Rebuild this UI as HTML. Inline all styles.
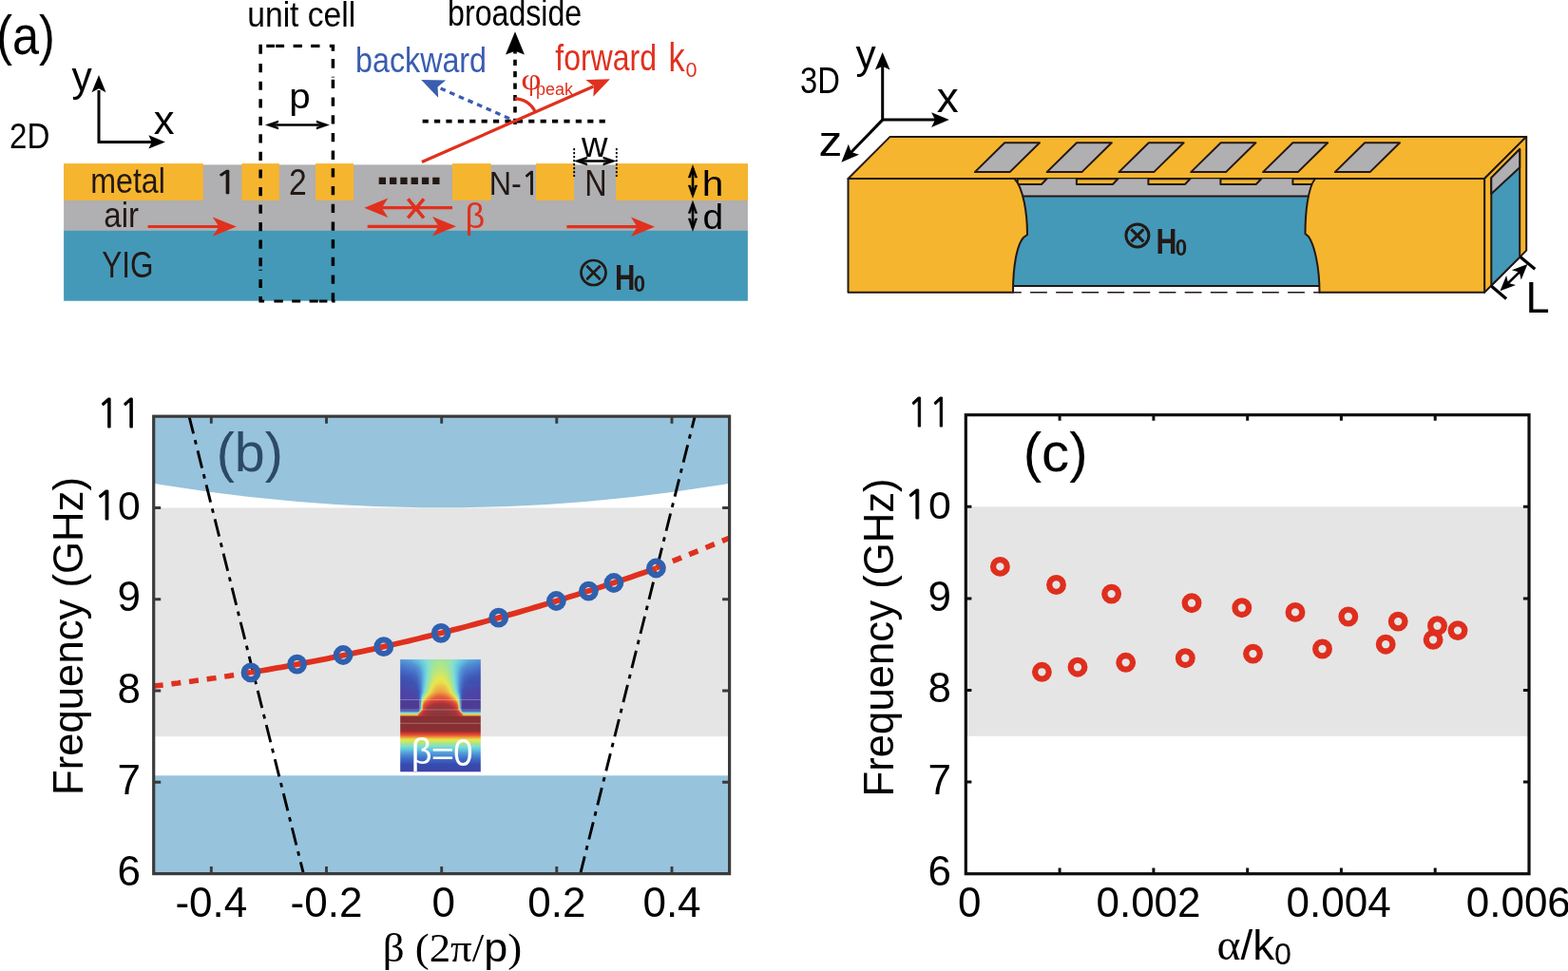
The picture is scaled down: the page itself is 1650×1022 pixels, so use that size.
<!DOCTYPE html>
<html><head><meta charset="utf-8"><title>figure</title>
<style>html,body{margin:0;padding:0;background:#fff;overflow:hidden}svg{display:block}</style></head>
<body><svg width="1650" height="1022" viewBox="0 0 1650 1022">
<rect width="1650" height="1022" fill="#fff"/>
<rect x="67.1" y="173.4" width="719.8" height="69.6" fill="#b0afb1"/>
<rect x="67.1" y="242.8" width="719.8" height="73.9" fill="#4499b8"/>
<rect x="67.1" y="172.1" width="146.7" height="38.8" fill="#f6b52e"/>
<rect x="254.3" y="172.1" width="39.6" height="38.8" fill="#f6b52e"/>
<rect x="332" y="172.1" width="40.1" height="38.8" fill="#f6b52e"/>
<rect x="476" y="172.1" width="40.7" height="38.8" fill="#f6b52e"/>
<rect x="564" y="172.1" width="40.0" height="38.8" fill="#f6b52e"/>
<rect x="648.2" y="172.1" width="138.7" height="38.8" fill="#f6b52e"/>
<rect x="398.7" y="186.7" width="7.3" height="7.3" fill="#231815"/>
<rect x="410.0" y="186.7" width="7.3" height="7.3" fill="#231815"/>
<rect x="421.3" y="186.7" width="7.3" height="7.3" fill="#231815"/>
<rect x="432.6" y="186.7" width="7.3" height="7.3" fill="#231815"/>
<rect x="443.9" y="186.7" width="7.3" height="7.3" fill="#231815"/>
<rect x="455.2" y="186.7" width="7.3" height="7.3" fill="#231815"/>
<path d="M272.40,46.80h3.5v9.90h-3.5zM272.40,67.10h3.5v9.20h-3.5zM272.40,85.65h3.5v9.20h-3.5zM272.40,104.20h3.5v9.20h-3.5zM272.40,122.75h3.5v9.20h-3.5zM272.40,141.30h3.5v9.20h-3.5zM272.40,159.85h3.5v9.20h-3.5zM272.40,178.40h3.5v9.20h-3.5zM272.40,196.95h3.5v9.20h-3.5zM272.40,215.50h3.5v9.20h-3.5zM272.40,234.05h3.5v9.20h-3.5zM272.40,252.60h3.5v9.20h-3.5zM272.40,271.15h3.5v9.20h-3.5zM272.40,283.80h3.5v1.00h-3.5zM272.40,293.90h3.5v9.20h-3.5zM272.40,311.90h3.5v6.60h-3.5zM348.65,46.80h3.5v6.90h-3.5zM348.65,61.90h3.5v9.90h-3.5zM348.65,80.80h3.5v0.80h-3.5zM348.65,83.80h3.5v9.30h-3.5zM348.65,102.50h3.5v9.30h-3.5zM348.65,121.20h3.5v9.30h-3.5zM348.65,139.90h3.5v9.30h-3.5zM348.65,158.60h3.5v9.30h-3.5zM348.65,177.30h3.5v9.30h-3.5zM348.65,196.00h3.5v9.30h-3.5zM348.65,214.70h3.5v9.30h-3.5zM348.65,233.40h3.5v9.30h-3.5zM348.65,252.10h3.5v9.30h-3.5zM348.65,270.80h3.5v9.30h-3.5zM348.65,289.50h3.5v9.30h-3.5zM348.65,308.20h3.5v9.30h-3.5zM272.40,46.80h3.50v3.30h-3.50zM280.30,46.80h8.70v3.30h-8.70zM290.10,46.80h9.00v3.30h-9.00zM308.60,46.80h9.30v3.30h-9.30zM327.20,46.80h9.30v3.30h-9.30zM346.80,46.80h5.40v3.30h-5.40zM272.60,315.40h5.50v3.10h-5.50zM288.40,315.40h9.40v3.10h-9.40zM307.20,315.40h9.00v3.10h-9.00zM325.60,315.40h9.10v3.10h-9.10zM335.90,315.40h8.50v3.10h-8.50zM349.30,315.40h3.30v3.10h-3.30z" fill="#000"/>
<line x1="283" y1="131.5" x2="343" y2="131.5" stroke="#000" stroke-width="2.4"/>
<polygon points="279.50,131.50 292.80,126.90 292.80,129.12 285.92,131.50 292.80,133.88 292.80,136.10" fill="#000" stroke="#000" stroke-width="0.4" stroke-linejoin="round"/>
<polygon points="346.40,131.50 333.10,136.10 333.10,133.88 339.98,131.50 333.10,129.12 333.10,126.90" fill="#000" stroke="#000" stroke-width="0.4" stroke-linejoin="round"/>
<path d="M104,95 L104,149.4 L160,149.4" stroke="#000" stroke-width="3" fill="none"/>
<polygon points="104.00,79.00 111.50,97.30 104.00,93.20 96.50,97.30" fill="#000"/>
<polygon points="173.90,149.40 156.40,156.60 159.70,149.40 156.40,142.20" fill="#000"/>
<line x1="542" y1="130.9" x2="542" y2="50.3" stroke="#000" stroke-width="3.6" stroke-dasharray="6.2 6.2"/>
<polygon points="542.00,33.30 551.95,57.50 542.00,53.70 532.05,57.50" fill="#000"/>
<line x1="444.6" y1="127.6" x2="637" y2="127.6" stroke="#000" stroke-width="3.6" stroke-dasharray="6.2 6.2"/>
<line x1="536" y1="124.8" x2="460.6" y2="91.6" stroke="#3a5db0" stroke-width="3.3" stroke-dasharray="5.6 4.9"/>
<polygon points="443.20,83.90 469.15,84.57 460.57,91.60 461.13,102.67" fill="#3a5db0"/>
<line x1="443.9" y1="170.6" x2="624.5" y2="90.9" stroke="#e0301e" stroke-width="3.3"/>
<polygon points="641.90,83.20 624.25,101.63 625.08,90.65 616.39,83.89" fill="#e0301e"/>
<path d="M541.7,103.9 A23.5,23.5 0 0 1 563.2,117.9" stroke="#e0301e" stroke-width="3.3" fill="none"/>
<line x1="155.6" y1="238.6" x2="230.3" y2="238.6" stroke="#e0301e" stroke-width="3.0"/>
<polygon points="248.80,238.60 223.80,248.80 230.30,238.60 223.80,228.40" fill="#e0301e"/>
<line x1="476" y1="218.7" x2="401.8" y2="218.7" stroke="#e0301e" stroke-width="3.3"/>
<polygon points="383.30,218.70 408.30,208.50 401.80,218.70 408.30,228.90" fill="#e0301e"/>
<line x1="386.7" y1="238.3" x2="461.5" y2="238.3" stroke="#e0301e" stroke-width="3.3"/>
<polygon points="480.00,238.30 455.00,248.50 461.50,238.30 455.00,228.10" fill="#e0301e"/>
<line x1="596.4" y1="238.7" x2="670.5" y2="238.7" stroke="#e0301e" stroke-width="3.3"/>
<polygon points="689.00,238.70 664.00,248.90 670.50,238.70 664.00,228.50" fill="#e0301e"/>
<path d="M429.3,209.3 L446,229.3 M446,209.3 L429.3,229.3" stroke="#e0301e" stroke-width="3.6"/>
<path d="M604.2,156 L604.2,186 M648.8,156 L648.8,186" stroke="#000" stroke-width="1.8" stroke-dasharray="2.2 1.8"/>
<line x1="608" y1="169.5" x2="645" y2="169.5" stroke="#000" stroke-width="2.6"/>
<polygon points="604.40,169.50 617.80,164.90 617.80,167.12 610.87,169.50 617.80,171.88 617.80,174.10" fill="#000" stroke="#000" stroke-width="0.4" stroke-linejoin="round"/>
<polygon points="648.20,169.50 634.80,174.10 634.80,171.88 641.73,169.50 634.80,167.12 634.80,164.90" fill="#000" stroke="#000" stroke-width="0.4" stroke-linejoin="round"/>
<line x1="729" y1="177" x2="729" y2="205" stroke="#000" stroke-width="2.6"/>
<polygon points="729.00,173.70 733.80,187.00 731.57,187.00 729.00,179.89 726.43,187.00 724.20,187.00" fill="#000" stroke="#000" stroke-width="0.4" stroke-linejoin="round"/>
<polygon points="729.00,208.30 724.20,195.00 726.43,195.00 729.00,202.11 731.57,195.00 733.80,195.00" fill="#000" stroke="#000" stroke-width="0.4" stroke-linejoin="round"/>
<line x1="729" y1="214.5" x2="729" y2="240" stroke="#000" stroke-width="2.6"/>
<polygon points="729.00,211.20 733.80,224.50 731.57,224.50 729.00,217.39 726.43,224.50 724.20,224.50" fill="#000" stroke="#000" stroke-width="0.4" stroke-linejoin="round"/>
<polygon points="729.00,243.20 724.20,229.90 726.43,229.90 729.00,237.01 731.57,229.90 733.80,229.90" fill="#000" stroke="#000" stroke-width="0.4" stroke-linejoin="round"/>
<circle cx="624.5" cy="287" r="13" fill="none" stroke="#231815" stroke-width="2.7"/>
<path d="M617.3,279.8 L631.7,294.2 M631.7,279.8 L617.3,294.2" stroke="#231815" stroke-width="2.7"/>
<polygon points="892.5,188 936.6,143.9 1606.2,143.9 1562.1,188" fill="#f6b52e" stroke="#231815" stroke-width="2" stroke-linejoin="round"/>
<polygon points="1025.8,181.1 1062.6,181.1 1094.0,150.2 1057.2,150.2" fill="#b0afb1" stroke="#231815" stroke-width="2" stroke-linejoin="round"/>
<polygon points="1101.6,181.1 1138.4,181.1 1169.8,150.2 1133.0,150.2" fill="#b0afb1" stroke="#231815" stroke-width="2" stroke-linejoin="round"/>
<polygon points="1177.4,181.1 1214.2,181.1 1245.6,150.2 1208.8,150.2" fill="#b0afb1" stroke="#231815" stroke-width="2" stroke-linejoin="round"/>
<polygon points="1253.2,181.1 1290.0,181.1 1321.4,150.2 1284.6,150.2" fill="#b0afb1" stroke="#231815" stroke-width="2" stroke-linejoin="round"/>
<polygon points="1329.0,181.1 1365.8,181.1 1397.2,150.2 1360.4,150.2" fill="#b0afb1" stroke="#231815" stroke-width="2" stroke-linejoin="round"/>
<polygon points="1404.8,181.1 1441.6,181.1 1473.0,150.2 1436.2,150.2" fill="#b0afb1" stroke="#231815" stroke-width="2" stroke-linejoin="round"/>
<polygon points="1562.1,188 1606.2,143.9 1606.2,263.6 1562.1,307.7" fill="#f6b52e" stroke="#231815" stroke-width="2" stroke-linejoin="round"/>
<polygon points="1569.3,187.1 1599.2,157 1599.2,270.6 1569.3,300.5" fill="#4499b8" stroke="#231815" stroke-width="2" stroke-linejoin="round"/>
<polygon points="1569.3,187.1 1599.2,157 1599.2,176.2 1569.3,204" fill="#b0afb1" stroke="#231815" stroke-width="2" stroke-linejoin="round"/>
<rect x="1064" y="188.3" width="326" height="18.2" fill="#b0afb1"/>
<rect x="1064" y="206.5" width="326" height="94.5" fill="#4499b8"/>
<line x1="1064" y1="206.5" x2="1390" y2="206.5" stroke="#231815" stroke-width="2" stroke-linejoin="round"/>
<line x1="1064" y1="301" x2="1390" y2="301" stroke="#231815" stroke-width="2" stroke-linejoin="round"/>
<line x1="1066" y1="307.8" x2="1389" y2="307.8" stroke="#231815" stroke-width="1.6" stroke-dasharray="17.8 9.3" stroke-dashoffset="9"/>
<polygon points="1070.7,188.3 1070.7,194 1096,194 1101.5,188.3" fill="#f6b52e" stroke="#231815" stroke-width="2" stroke-linejoin="round"/>
<polygon points="1132.9,188.3 1132.9,194 1170.9,194 1176.4,188.3" fill="#f6b52e" stroke="#231815" stroke-width="2" stroke-linejoin="round"/>
<polygon points="1208.4,188.3 1208.4,194 1246.9,194 1252.4,188.3" fill="#f6b52e" stroke="#231815" stroke-width="2" stroke-linejoin="round"/>
<polygon points="1284.4,188.3 1284.4,194 1321.7,194 1327.2,188.3" fill="#f6b52e" stroke="#231815" stroke-width="2" stroke-linejoin="round"/>
<polygon points="1360.4,188.3 1360.4,194 1390,194 1395.5,188.3" fill="#f6b52e" stroke="#231815" stroke-width="2" stroke-linejoin="round"/>
<path d="M892.5,188 L1067.5,188 C1077,198 1081,225 1081,247 L1077,250 C1070,258 1066,280 1066,307.7 L892.5,307.7 Z" fill="#f6b52e" stroke="#231815" stroke-width="2" stroke-linejoin="round"/>
<path d="M1562.1,188 L1384,188 C1376,198 1373.5,225 1373.5,246 L1377,249 C1383,258 1388.5,280 1388.5,307.7 L1562.1,307.7 Z" fill="#f6b52e" stroke="#231815" stroke-width="2" stroke-linejoin="round"/>
<circle cx="1196.9" cy="247.9" r="12" fill="none" stroke="#231815" stroke-width="3"/>
<path d="M1190.4,241.4 L1203.4,254.4 M1203.4,241.4 L1190.4,254.4" stroke="#231815" stroke-width="3"/>
<path d="M928.7,70 L928.7,126.1 L985,126.1" stroke="#000" stroke-width="3" fill="none"/>
<polygon points="928.70,54.90 936.50,73.60 928.70,69.70 920.90,73.60" fill="#000"/>
<polygon points="998.80,126.10 980.10,133.90 984.00,126.10 980.10,118.30" fill="#000"/>
<line x1="928.7" y1="126.1" x2="895.2" y2="160.7" stroke="#000" stroke-width="3"/>
<polygon points="885.40,170.70 892.83,151.85 895.71,160.08 904.02,162.72" fill="#000"/>
<path d="M1569.5,301.2 L1585.1,314.5 M1599.6,270.3 L1615.3,283.2" stroke="#000" stroke-width="3.2"/>
<line x1="1585.7" y1="299.3" x2="1600.2" y2="285.1" stroke="#000" stroke-width="2.6"/>
<polygon points="1578.50,306.30 1585.14,289.90 1587.09,297.92 1595.05,300.07" fill="#000"/>
<polygon points="1607.40,278.10 1600.76,294.50 1598.81,286.48 1590.85,284.33" fill="#000"/>
<clipPath id="cb"><rect x="161.7" y="438.2" width="605.9" height="481.4"/></clipPath>
<g clip-path="url(#cb)">
<rect x="161.7" y="534.5" width="605.9" height="240.7" fill="#e5e5e5"/>
<polygon points="161.7,438.2 767.6,438.2 767.6,508.8 757.5,510.5 747.4,512.1 737.3,513.6 727.2,515.1 717.1,516.6 707.0,518.0 696.9,519.3 686.8,520.6 676.7,521.8 666.6,523.0 656.5,524.1 646.4,525.1 636.3,526.1 626.2,527.0 616.1,527.9 606.0,528.7 595.9,529.5 585.8,530.2 575.7,530.9 565.6,531.5 555.5,532.0 545.4,532.5 535.3,532.9 525.2,533.3 515.1,533.6 505.0,533.8 494.9,534.0 484.8,534.2 474.7,534.3 464.7,534.3 454.6,534.3 444.5,534.2 434.4,534.0 424.3,533.8 414.2,533.6 404.1,533.3 394.0,532.9 383.9,532.5 373.8,532.0 363.7,531.5 353.6,530.9 343.5,530.2 333.4,529.5 323.3,528.7 313.2,527.9 303.1,527.0 293.0,526.1 282.9,525.1 272.8,524.1 262.7,523.0 252.6,521.8 242.5,520.6 232.4,519.3 222.3,518.0 212.2,516.6 202.1,515.1 192.0,513.6 181.9,512.1 171.8,510.5 161.7,508.8" fill="#97c3dc"/>
<rect x="161.7" y="816.3" width="605.9" height="103.3" fill="#97c3dc"/>
<line x1="199" y1="438.2" x2="319.4" y2="919.6" stroke="#000" stroke-width="2.9" stroke-dasharray="18.8 6.9 4.6 6.9"/>
<line x1="610.7" y1="919.6" x2="731.2" y2="438.2" stroke="#000" stroke-width="2.9" stroke-dasharray="18.8 6.9 4.6 6.9"/>
<polyline points="161.7,722.1 164.3,721.8 166.8,721.5 169.4,721.2 171.9,720.9 174.5,720.6 177.0,720.3 179.6,719.9 182.2,719.6 184.7,719.3 187.3,719.0 189.8,718.6 192.4,718.3 194.9,718.0 197.5,717.6 200.1,717.3 202.6,716.9 205.2,716.6 207.7,716.2 210.3,715.9 212.8,715.5 215.4,715.1 218.0,714.8 220.5,714.4 223.1,714.0 225.6,713.7 228.2,713.3 230.8,712.9 233.3,712.5 235.9,712.1 238.4,711.8 241.0,711.4 243.5,711.0 246.1,710.6 248.7,710.2 251.2,709.8 253.8,709.4 256.3,709.0 258.9,708.6 261.4,708.1 264.0,707.7" fill="none" stroke="#e0301e" stroke-width="5.6" stroke-dasharray="10 8.8"/>
<line x1="690.4" y1="597.82" x2="767.6" y2="566.26" stroke="#e0301e" stroke-width="5.6" stroke-dasharray="10 8.8"/>
<polyline points="264.0,707.7 269.3,706.9 274.7,706.0 280.0,705.1 285.3,704.1 290.6,703.2 296.0,702.3 301.3,701.3 306.6,700.4 312.0,699.4 317.3,698.4 322.6,697.4 328.0,696.4 333.3,695.4 338.6,694.3 343.9,693.3 349.3,692.2 354.6,691.1 359.9,690.0 365.3,688.9 370.6,687.8 375.9,686.7 381.3,685.6 386.6,684.4 391.9,683.3 397.2,682.1 402.6,680.9 407.9,679.7 413.2,678.5 418.6,677.2 423.9,676.0 429.2,674.8 434.6,673.5 439.9,672.2 445.2,670.9 450.6,669.6 455.9,668.3 461.2,667.0 466.5,665.7 471.9,664.3 477.2,662.9 482.5,661.6 487.9,660.2 493.2,658.8 498.5,657.4 503.9,655.9 509.2,654.5 514.5,653.0 519.8,651.6 525.2,650.1 530.5,648.6 535.8,647.1 541.2,645.6 546.5,644.1 551.8,642.5 557.1,641.0 562.5,639.4 567.8,637.9 573.1,636.3 578.5,634.7 583.8,633.1 589.1,631.4 594.5,629.8 599.8,628.1 605.1,626.5 610.5,624.8 615.8,623.1 621.1,621.4 626.4,619.7 631.8,618.0 637.1,616.2 642.4,614.5 647.8,612.7 653.1,611.0 658.4,609.2 663.8,607.4 669.1,605.6 674.4,603.7 679.7,601.9 685.1,600.0 690.4,598.2" fill="none" stroke="#e0301e" stroke-width="5.8"/>
<circle cx="264.0" cy="707.9" r="7.3" fill="none" stroke="#2f60ae" stroke-width="6.2"/>
<circle cx="312.6" cy="699.2" r="7.3" fill="none" stroke="#2f60ae" stroke-width="6.2"/>
<circle cx="361.1" cy="689.5" r="7.3" fill="none" stroke="#2f60ae" stroke-width="6.2"/>
<circle cx="403.8" cy="680.7" r="7.3" fill="none" stroke="#2f60ae" stroke-width="6.2"/>
<circle cx="464.1" cy="666.4" r="7.3" fill="none" stroke="#2f60ae" stroke-width="6.2"/>
<circle cx="524.7" cy="650.2" r="7.3" fill="none" stroke="#2f60ae" stroke-width="6.2"/>
<circle cx="585.4" cy="632.5" r="7.3" fill="none" stroke="#2f60ae" stroke-width="6.2"/>
<circle cx="619.4" cy="622.1" r="7.3" fill="none" stroke="#2f60ae" stroke-width="6.2"/>
<circle cx="645.9" cy="613.5" r="7.3" fill="none" stroke="#2f60ae" stroke-width="6.2"/>
<circle cx="690.4" cy="598.0" r="7.3" fill="none" stroke="#2f60ae" stroke-width="6.2"/>
</g>
<defs><linearGradient id="r0" x1="0" x2="1" y1="0" y2="0"><stop offset="0.000" stop-color="#4f95d5"/><stop offset="0.212" stop-color="#5fc3e0"/><stop offset="0.300" stop-color="#79d8d5"/><stop offset="0.324" stop-color="#80ded1"/><stop offset="0.418" stop-color="#9be39e"/><stop offset="0.500" stop-color="#a3e58e"/><stop offset="0.582" stop-color="#9be39e"/><stop offset="0.676" stop-color="#80ded1"/><stop offset="0.700" stop-color="#79d8d5"/><stop offset="0.788" stop-color="#5fc3e0"/><stop offset="1.000" stop-color="#4f95d5"/></linearGradient><linearGradient id="r1" x1="0" x2="1" y1="0" y2="0"><stop offset="0.000" stop-color="#4c8ed3"/><stop offset="0.141" stop-color="#55a5d9"/><stop offset="0.235" stop-color="#60c4e0"/><stop offset="0.329" stop-color="#80ded1"/><stop offset="0.418" stop-color="#9be49d"/><stop offset="0.500" stop-color="#a4e58c"/><stop offset="0.582" stop-color="#9be49d"/><stop offset="0.671" stop-color="#80ded1"/><stop offset="0.765" stop-color="#60c4e0"/><stop offset="0.859" stop-color="#55a5d9"/><stop offset="1.000" stop-color="#4c8ed3"/></linearGradient><linearGradient id="r2" x1="0" x2="1" y1="0" y2="0"><stop offset="0.000" stop-color="#4a88d1"/><stop offset="0.147" stop-color="#529fd7"/><stop offset="0.247" stop-color="#60c4e0"/><stop offset="0.329" stop-color="#7edcd2"/><stop offset="0.418" stop-color="#9ce49b"/><stop offset="0.500" stop-color="#a7e689"/><stop offset="0.582" stop-color="#9ce49b"/><stop offset="0.671" stop-color="#7edcd2"/><stop offset="0.753" stop-color="#60c4e0"/><stop offset="0.853" stop-color="#529fd7"/><stop offset="1.000" stop-color="#4a88d1"/></linearGradient><linearGradient id="r3" x1="0" x2="1" y1="0" y2="0"><stop offset="0.000" stop-color="#4883cf"/><stop offset="0.153" stop-color="#5099d6"/><stop offset="0.259" stop-color="#60c4e0"/><stop offset="0.341" stop-color="#82dece"/><stop offset="0.418" stop-color="#9de49a"/><stop offset="0.500" stop-color="#a9e687"/><stop offset="0.582" stop-color="#9de49a"/><stop offset="0.659" stop-color="#82dece"/><stop offset="0.741" stop-color="#60c4e0"/><stop offset="0.847" stop-color="#5099d6"/><stop offset="1.000" stop-color="#4883cf"/></linearGradient><linearGradient id="r4" x1="0" x2="1" y1="0" y2="0"><stop offset="0.000" stop-color="#467ecd"/><stop offset="0.159" stop-color="#4e93d4"/><stop offset="0.265" stop-color="#5fc3e0"/><stop offset="0.341" stop-color="#80ded0"/><stop offset="0.418" stop-color="#9ee498"/><stop offset="0.500" stop-color="#ace684"/><stop offset="0.582" stop-color="#9ee498"/><stop offset="0.659" stop-color="#80ded0"/><stop offset="0.735" stop-color="#5fc3e0"/><stop offset="0.841" stop-color="#4e93d4"/><stop offset="1.000" stop-color="#467ecd"/></linearGradient><linearGradient id="r5" x1="0" x2="1" y1="0" y2="0"><stop offset="0.000" stop-color="#4479cb"/><stop offset="0.176" stop-color="#4e91d4"/><stop offset="0.271" stop-color="#5ec2e0"/><stop offset="0.341" stop-color="#7fddd2"/><stop offset="0.418" stop-color="#9fe496"/><stop offset="0.500" stop-color="#aee682"/><stop offset="0.582" stop-color="#9fe496"/><stop offset="0.659" stop-color="#7fddd2"/><stop offset="0.729" stop-color="#5ec2e0"/><stop offset="0.824" stop-color="#4e91d4"/><stop offset="1.000" stop-color="#4479cb"/></linearGradient><linearGradient id="r6" x1="0" x2="1" y1="0" y2="0"><stop offset="0.000" stop-color="#4274ca"/><stop offset="0.182" stop-color="#4c8dd2"/><stop offset="0.282" stop-color="#61c4df"/><stop offset="0.347" stop-color="#82decd"/><stop offset="0.424" stop-color="#a1e592"/><stop offset="0.500" stop-color="#b1e67f"/><stop offset="0.576" stop-color="#a1e592"/><stop offset="0.653" stop-color="#82decd"/><stop offset="0.718" stop-color="#61c4df"/><stop offset="0.818" stop-color="#4c8dd2"/><stop offset="1.000" stop-color="#4274ca"/></linearGradient><linearGradient id="r7" x1="0" x2="1" y1="0" y2="0"><stop offset="0.000" stop-color="#4070c8"/><stop offset="0.188" stop-color="#4b8ad1"/><stop offset="0.229" stop-color="#529cd7"/><stop offset="0.282" stop-color="#5ec2e0"/><stop offset="0.347" stop-color="#81dece"/><stop offset="0.424" stop-color="#a2e58f"/><stop offset="0.500" stop-color="#b3e67c"/><stop offset="0.576" stop-color="#a2e58f"/><stop offset="0.653" stop-color="#81dece"/><stop offset="0.718" stop-color="#5ec2e0"/><stop offset="0.771" stop-color="#529cd7"/><stop offset="0.812" stop-color="#4b8ad1"/><stop offset="1.000" stop-color="#4070c8"/></linearGradient><linearGradient id="r8" x1="0" x2="1" y1="0" y2="0"><stop offset="0.000" stop-color="#3f6bc6"/><stop offset="0.188" stop-color="#4985cf"/><stop offset="0.229" stop-color="#5097d5"/><stop offset="0.288" stop-color="#5fc3e0"/><stop offset="0.341" stop-color="#7edcd2"/><stop offset="0.388" stop-color="#97e3a5"/><stop offset="0.429" stop-color="#a6e68a"/><stop offset="0.500" stop-color="#b6e67a"/><stop offset="0.571" stop-color="#a6e68a"/><stop offset="0.612" stop-color="#97e3a5"/><stop offset="0.659" stop-color="#7edcd2"/><stop offset="0.712" stop-color="#5fc3e0"/><stop offset="0.771" stop-color="#5097d5"/><stop offset="0.812" stop-color="#4985cf"/><stop offset="1.000" stop-color="#3f6bc6"/></linearGradient><linearGradient id="r9" x1="0" x2="1" y1="0" y2="0"><stop offset="0.000" stop-color="#3d67c5"/><stop offset="0.188" stop-color="#4780ce"/><stop offset="0.229" stop-color="#4e92d4"/><stop offset="0.294" stop-color="#61c4df"/><stop offset="0.347" stop-color="#81decf"/><stop offset="0.388" stop-color="#98e3a4"/><stop offset="0.429" stop-color="#a8e688"/><stop offset="0.500" stop-color="#b9e677"/><stop offset="0.571" stop-color="#a8e688"/><stop offset="0.612" stop-color="#98e3a4"/><stop offset="0.653" stop-color="#81decf"/><stop offset="0.706" stop-color="#61c4df"/><stop offset="0.771" stop-color="#4e92d4"/><stop offset="0.812" stop-color="#4780ce"/><stop offset="1.000" stop-color="#3d67c5"/></linearGradient><linearGradient id="r10" x1="0" x2="1" y1="0" y2="0"><stop offset="0.000" stop-color="#3c64c2"/><stop offset="0.188" stop-color="#457ccc"/><stop offset="0.235" stop-color="#4e91d4"/><stop offset="0.294" stop-color="#5fc3e0"/><stop offset="0.347" stop-color="#81decf"/><stop offset="0.388" stop-color="#99e3a2"/><stop offset="0.429" stop-color="#abe685"/><stop offset="0.500" stop-color="#bce673"/><stop offset="0.571" stop-color="#abe685"/><stop offset="0.612" stop-color="#99e3a2"/><stop offset="0.653" stop-color="#81decf"/><stop offset="0.706" stop-color="#5fc3e0"/><stop offset="0.765" stop-color="#4e91d4"/><stop offset="0.812" stop-color="#457ccc"/><stop offset="1.000" stop-color="#3c64c2"/></linearGradient><linearGradient id="r11" x1="0" x2="1" y1="0" y2="0"><stop offset="0.000" stop-color="#3b61c0"/><stop offset="0.188" stop-color="#4478cb"/><stop offset="0.241" stop-color="#4e91d4"/><stop offset="0.294" stop-color="#5ec2e0"/><stop offset="0.341" stop-color="#7edcd2"/><stop offset="0.388" stop-color="#9ae39f"/><stop offset="0.424" stop-color="#ace684"/><stop offset="0.500" stop-color="#c0e66f"/><stop offset="0.576" stop-color="#ace684"/><stop offset="0.612" stop-color="#9ae39f"/><stop offset="0.659" stop-color="#7edcd2"/><stop offset="0.706" stop-color="#5ec2e0"/><stop offset="0.759" stop-color="#4e91d4"/><stop offset="0.812" stop-color="#4478cb"/><stop offset="1.000" stop-color="#3b61c0"/></linearGradient><linearGradient id="r12" x1="0" x2="1" y1="0" y2="0"><stop offset="0.000" stop-color="#3b5ebd"/><stop offset="0.188" stop-color="#4273c9"/><stop offset="0.247" stop-color="#4e92d4"/><stop offset="0.300" stop-color="#61c5df"/><stop offset="0.341" stop-color="#7edcd2"/><stop offset="0.388" stop-color="#9ce49c"/><stop offset="0.424" stop-color="#b0e680"/><stop offset="0.500" stop-color="#c4e66b"/><stop offset="0.576" stop-color="#b0e680"/><stop offset="0.612" stop-color="#9ce49c"/><stop offset="0.659" stop-color="#7edcd2"/><stop offset="0.700" stop-color="#61c5df"/><stop offset="0.753" stop-color="#4e92d4"/><stop offset="0.812" stop-color="#4273c9"/><stop offset="1.000" stop-color="#3b5ebd"/></linearGradient><linearGradient id="r13" x1="0" x2="1" y1="0" y2="0"><stop offset="0.000" stop-color="#3a5bbb"/><stop offset="0.135" stop-color="#3c65c2"/><stop offset="0.194" stop-color="#4172c9"/><stop offset="0.247" stop-color="#4d8ed3"/><stop offset="0.300" stop-color="#60c4e0"/><stop offset="0.341" stop-color="#7fddd2"/><stop offset="0.382" stop-color="#9be39e"/><stop offset="0.424" stop-color="#b4e67c"/><stop offset="0.500" stop-color="#c9e767"/><stop offset="0.576" stop-color="#b4e67c"/><stop offset="0.618" stop-color="#9be39e"/><stop offset="0.659" stop-color="#7fddd2"/><stop offset="0.700" stop-color="#60c4e0"/><stop offset="0.753" stop-color="#4d8ed3"/><stop offset="0.806" stop-color="#4172c9"/><stop offset="0.865" stop-color="#3c65c2"/><stop offset="1.000" stop-color="#3a5bbb"/></linearGradient><linearGradient id="r14" x1="0" x2="1" y1="0" y2="0"><stop offset="0.000" stop-color="#3958b9"/><stop offset="0.194" stop-color="#406ec7"/><stop offset="0.253" stop-color="#4d90d3"/><stop offset="0.300" stop-color="#60c4e0"/><stop offset="0.341" stop-color="#7fddd2"/><stop offset="0.382" stop-color="#9ce49b"/><stop offset="0.424" stop-color="#b8e678"/><stop offset="0.500" stop-color="#cde763"/><stop offset="0.576" stop-color="#b8e678"/><stop offset="0.618" stop-color="#9ce49b"/><stop offset="0.659" stop-color="#7fddd2"/><stop offset="0.700" stop-color="#60c4e0"/><stop offset="0.747" stop-color="#4d90d3"/><stop offset="0.806" stop-color="#406ec7"/><stop offset="1.000" stop-color="#3958b9"/></linearGradient><linearGradient id="r15" x1="0" x2="1" y1="0" y2="0"><stop offset="0.000" stop-color="#3856b7"/><stop offset="0.194" stop-color="#3e6ac6"/><stop offset="0.253" stop-color="#4c8ed2"/><stop offset="0.300" stop-color="#5fc3e0"/><stop offset="0.341" stop-color="#80ded0"/><stop offset="0.382" stop-color="#9ee498"/><stop offset="0.424" stop-color="#bce674"/><stop offset="0.500" stop-color="#d1e75f"/><stop offset="0.576" stop-color="#bce674"/><stop offset="0.618" stop-color="#9ee498"/><stop offset="0.659" stop-color="#80ded0"/><stop offset="0.700" stop-color="#5fc3e0"/><stop offset="0.747" stop-color="#4c8ed2"/><stop offset="0.806" stop-color="#3e6ac6"/><stop offset="1.000" stop-color="#3856b7"/></linearGradient><linearGradient id="r16" x1="0" x2="1" y1="0" y2="0"><stop offset="0.000" stop-color="#3853b5"/><stop offset="0.135" stop-color="#3a5cbb"/><stop offset="0.200" stop-color="#3e69c6"/><stop offset="0.259" stop-color="#4d90d3"/><stop offset="0.300" stop-color="#5fc3e0"/><stop offset="0.341" stop-color="#81dece"/><stop offset="0.382" stop-color="#a0e594"/><stop offset="0.418" stop-color="#bce674"/><stop offset="0.453" stop-color="#cde762"/><stop offset="0.500" stop-color="#d5e75a"/><stop offset="0.547" stop-color="#cde762"/><stop offset="0.582" stop-color="#bce674"/><stop offset="0.618" stop-color="#a0e594"/><stop offset="0.659" stop-color="#81dece"/><stop offset="0.700" stop-color="#5fc3e0"/><stop offset="0.741" stop-color="#4d90d3"/><stop offset="0.800" stop-color="#3e69c6"/><stop offset="0.865" stop-color="#3a5cbb"/><stop offset="1.000" stop-color="#3853b5"/></linearGradient><linearGradient id="r17" x1="0" x2="1" y1="0" y2="0"><stop offset="0.000" stop-color="#3751b3"/><stop offset="0.141" stop-color="#395aba"/><stop offset="0.206" stop-color="#3d68c5"/><stop offset="0.259" stop-color="#4d8ed3"/><stop offset="0.300" stop-color="#5fc3e0"/><stop offset="0.335" stop-color="#7ddcd2"/><stop offset="0.382" stop-color="#a2e591"/><stop offset="0.418" stop-color="#c0e670"/><stop offset="0.453" stop-color="#d2e75e"/><stop offset="0.500" stop-color="#d9e756"/><stop offset="0.547" stop-color="#d2e75e"/><stop offset="0.582" stop-color="#c0e670"/><stop offset="0.618" stop-color="#a2e591"/><stop offset="0.665" stop-color="#7ddcd2"/><stop offset="0.700" stop-color="#5fc3e0"/><stop offset="0.741" stop-color="#4d8ed3"/><stop offset="0.794" stop-color="#3d68c5"/><stop offset="0.859" stop-color="#395aba"/><stop offset="1.000" stop-color="#3751b3"/></linearGradient><linearGradient id="r18" x1="0" x2="1" y1="0" y2="0"><stop offset="0.000" stop-color="#364fb1"/><stop offset="0.141" stop-color="#3957b8"/><stop offset="0.206" stop-color="#3d66c3"/><stop offset="0.259" stop-color="#4c8cd2"/><stop offset="0.300" stop-color="#5fc3e0"/><stop offset="0.335" stop-color="#7eddd2"/><stop offset="0.376" stop-color="#a0e594"/><stop offset="0.418" stop-color="#c4e66c"/><stop offset="0.453" stop-color="#d6e759"/><stop offset="0.500" stop-color="#dde752"/><stop offset="0.547" stop-color="#d6e759"/><stop offset="0.582" stop-color="#c4e66c"/><stop offset="0.624" stop-color="#a0e594"/><stop offset="0.665" stop-color="#7eddd2"/><stop offset="0.700" stop-color="#5fc3e0"/><stop offset="0.741" stop-color="#4c8cd2"/><stop offset="0.794" stop-color="#3d66c3"/><stop offset="0.859" stop-color="#3957b8"/><stop offset="1.000" stop-color="#364fb1"/></linearGradient><linearGradient id="r19" x1="0" x2="1" y1="0" y2="0"><stop offset="0.000" stop-color="#364daf"/><stop offset="0.141" stop-color="#3854b6"/><stop offset="0.206" stop-color="#3c63c1"/><stop offset="0.259" stop-color="#4b8ad1"/><stop offset="0.300" stop-color="#5fc3e0"/><stop offset="0.335" stop-color="#80ded1"/><stop offset="0.376" stop-color="#a2e590"/><stop offset="0.418" stop-color="#c8e767"/><stop offset="0.453" stop-color="#dae755"/><stop offset="0.500" stop-color="#e1e74e"/><stop offset="0.547" stop-color="#dae755"/><stop offset="0.582" stop-color="#c8e767"/><stop offset="0.624" stop-color="#a2e590"/><stop offset="0.665" stop-color="#80ded1"/><stop offset="0.700" stop-color="#5fc3e0"/><stop offset="0.741" stop-color="#4b8ad1"/><stop offset="0.794" stop-color="#3c63c1"/><stop offset="0.859" stop-color="#3854b6"/><stop offset="1.000" stop-color="#364daf"/></linearGradient><linearGradient id="r20" x1="0" x2="1" y1="0" y2="0"><stop offset="0.000" stop-color="#364bae"/><stop offset="0.141" stop-color="#3752b4"/><stop offset="0.206" stop-color="#3b60bf"/><stop offset="0.253" stop-color="#4882cf"/><stop offset="0.300" stop-color="#5fc3e0"/><stop offset="0.335" stop-color="#81decf"/><stop offset="0.376" stop-color="#a4e58c"/><stop offset="0.418" stop-color="#cce763"/><stop offset="0.453" stop-color="#dee751"/><stop offset="0.500" stop-color="#e5e74a"/><stop offset="0.547" stop-color="#dee751"/><stop offset="0.582" stop-color="#cce763"/><stop offset="0.624" stop-color="#a4e58c"/><stop offset="0.665" stop-color="#81decf"/><stop offset="0.700" stop-color="#5fc3e0"/><stop offset="0.747" stop-color="#4882cf"/><stop offset="0.794" stop-color="#3b60bf"/><stop offset="0.859" stop-color="#3752b4"/><stop offset="1.000" stop-color="#364bae"/></linearGradient><linearGradient id="r21" x1="0" x2="1" y1="0" y2="0"><stop offset="0.000" stop-color="#3849ad"/><stop offset="0.141" stop-color="#3750b2"/><stop offset="0.206" stop-color="#3b5ebd"/><stop offset="0.253" stop-color="#4781ce"/><stop offset="0.300" stop-color="#5fc3e0"/><stop offset="0.329" stop-color="#7ddbd3"/><stop offset="0.376" stop-color="#a7e689"/><stop offset="0.418" stop-color="#d0e75f"/><stop offset="0.459" stop-color="#e4e74b"/><stop offset="0.500" stop-color="#e8e547"/><stop offset="0.541" stop-color="#e4e74b"/><stop offset="0.582" stop-color="#d0e75f"/><stop offset="0.624" stop-color="#a7e689"/><stop offset="0.671" stop-color="#7ddbd3"/><stop offset="0.700" stop-color="#5fc3e0"/><stop offset="0.747" stop-color="#4781ce"/><stop offset="0.794" stop-color="#3b5ebd"/><stop offset="0.859" stop-color="#3750b2"/><stop offset="1.000" stop-color="#3849ad"/></linearGradient><linearGradient id="r22" x1="0" x2="1" y1="0" y2="0"><stop offset="0.000" stop-color="#3948ac"/><stop offset="0.141" stop-color="#364db0"/><stop offset="0.206" stop-color="#3a5bbb"/><stop offset="0.253" stop-color="#467fcd"/><stop offset="0.300" stop-color="#5fc3e0"/><stop offset="0.329" stop-color="#7edcd2"/><stop offset="0.376" stop-color="#abe685"/><stop offset="0.418" stop-color="#d5e75b"/><stop offset="0.453" stop-color="#e7e748"/><stop offset="0.500" stop-color="#e8e146"/><stop offset="0.547" stop-color="#e7e748"/><stop offset="0.582" stop-color="#d5e75b"/><stop offset="0.624" stop-color="#abe685"/><stop offset="0.671" stop-color="#7edcd2"/><stop offset="0.700" stop-color="#5fc3e0"/><stop offset="0.747" stop-color="#467fcd"/><stop offset="0.794" stop-color="#3a5bbb"/><stop offset="0.859" stop-color="#364db0"/><stop offset="1.000" stop-color="#3948ac"/></linearGradient><linearGradient id="r23" x1="0" x2="1" y1="0" y2="0"><stop offset="0.000" stop-color="#3b47ab"/><stop offset="0.147" stop-color="#364caf"/><stop offset="0.206" stop-color="#3959b9"/><stop offset="0.253" stop-color="#467dcd"/><stop offset="0.300" stop-color="#60c4e0"/><stop offset="0.329" stop-color="#7fddd2"/><stop offset="0.371" stop-color="#a7e689"/><stop offset="0.418" stop-color="#d9e756"/><stop offset="0.447" stop-color="#e8e647"/><stop offset="0.500" stop-color="#e9dd46"/><stop offset="0.553" stop-color="#e8e647"/><stop offset="0.582" stop-color="#d9e756"/><stop offset="0.629" stop-color="#a7e689"/><stop offset="0.671" stop-color="#7fddd2"/><stop offset="0.700" stop-color="#60c4e0"/><stop offset="0.747" stop-color="#467dcd"/><stop offset="0.794" stop-color="#3959b9"/><stop offset="0.853" stop-color="#364caf"/><stop offset="1.000" stop-color="#3b47ab"/></linearGradient><linearGradient id="r24" x1="0" x2="1" y1="0" y2="0"><stop offset="0.000" stop-color="#3c46aa"/><stop offset="0.159" stop-color="#364bae"/><stop offset="0.206" stop-color="#3957b7"/><stop offset="0.253" stop-color="#457bcc"/><stop offset="0.300" stop-color="#61c4e0"/><stop offset="0.329" stop-color="#81decf"/><stop offset="0.371" stop-color="#abe685"/><stop offset="0.418" stop-color="#dde752"/><stop offset="0.435" stop-color="#e8e747"/><stop offset="0.500" stop-color="#e9d945"/><stop offset="0.565" stop-color="#e8e747"/><stop offset="0.582" stop-color="#dde752"/><stop offset="0.629" stop-color="#abe685"/><stop offset="0.671" stop-color="#81decf"/><stop offset="0.700" stop-color="#61c4e0"/><stop offset="0.747" stop-color="#457bcc"/><stop offset="0.794" stop-color="#3957b7"/><stop offset="0.841" stop-color="#364bae"/><stop offset="1.000" stop-color="#3c46aa"/></linearGradient><linearGradient id="r25" x1="0" x2="1" y1="0" y2="0"><stop offset="0.000" stop-color="#3d45aa"/><stop offset="0.159" stop-color="#384aad"/><stop offset="0.206" stop-color="#3855b6"/><stop offset="0.247" stop-color="#4273c9"/><stop offset="0.300" stop-color="#62c5df"/><stop offset="0.324" stop-color="#7ddbd3"/><stop offset="0.371" stop-color="#b0e680"/><stop offset="0.418" stop-color="#e2e74d"/><stop offset="0.500" stop-color="#ead444"/><stop offset="0.582" stop-color="#e2e74d"/><stop offset="0.629" stop-color="#b0e680"/><stop offset="0.676" stop-color="#7ddbd3"/><stop offset="0.700" stop-color="#62c5df"/><stop offset="0.753" stop-color="#4273c9"/><stop offset="0.794" stop-color="#3855b6"/><stop offset="0.841" stop-color="#384aad"/><stop offset="1.000" stop-color="#3d45aa"/></linearGradient><linearGradient id="r26" x1="0" x2="1" y1="0" y2="0"><stop offset="0.000" stop-color="#3f44a9"/><stop offset="0.153" stop-color="#3a48ac"/><stop offset="0.206" stop-color="#3752b4"/><stop offset="0.247" stop-color="#4171c9"/><stop offset="0.300" stop-color="#63c6de"/><stop offset="0.324" stop-color="#7fddd2"/><stop offset="0.365" stop-color="#aee682"/><stop offset="0.412" stop-color="#e5e74b"/><stop offset="0.453" stop-color="#ead344"/><stop offset="0.500" stop-color="#ebcd43"/><stop offset="0.547" stop-color="#ead344"/><stop offset="0.588" stop-color="#e5e74b"/><stop offset="0.635" stop-color="#aee682"/><stop offset="0.676" stop-color="#7fddd2"/><stop offset="0.700" stop-color="#63c6de"/><stop offset="0.753" stop-color="#4171c9"/><stop offset="0.794" stop-color="#3752b4"/><stop offset="0.847" stop-color="#3a48ac"/><stop offset="1.000" stop-color="#3f44a9"/></linearGradient><linearGradient id="r27" x1="0" x2="1" y1="0" y2="0"><stop offset="0.000" stop-color="#4043a8"/><stop offset="0.206" stop-color="#3750b2"/><stop offset="0.247" stop-color="#4070c8"/><stop offset="0.271" stop-color="#4e92d4"/><stop offset="0.294" stop-color="#5ec1e0"/><stop offset="0.324" stop-color="#82decd"/><stop offset="0.365" stop-color="#b4e67c"/><stop offset="0.406" stop-color="#e6e749"/><stop offset="0.453" stop-color="#ebcd43"/><stop offset="0.500" stop-color="#ebc642"/><stop offset="0.547" stop-color="#ebcd43"/><stop offset="0.594" stop-color="#e6e749"/><stop offset="0.635" stop-color="#b4e67c"/><stop offset="0.676" stop-color="#82decd"/><stop offset="0.706" stop-color="#5ec1e0"/><stop offset="0.729" stop-color="#4e92d4"/><stop offset="0.753" stop-color="#4070c8"/><stop offset="0.794" stop-color="#3750b2"/><stop offset="1.000" stop-color="#4043a8"/></linearGradient><linearGradient id="r28" x1="0" x2="1" y1="0" y2="0"><stop offset="0.000" stop-color="#4142a7"/><stop offset="0.206" stop-color="#364eb1"/><stop offset="0.247" stop-color="#406ec8"/><stop offset="0.271" stop-color="#4e92d4"/><stop offset="0.294" stop-color="#5fc3e0"/><stop offset="0.318" stop-color="#7ddcd2"/><stop offset="0.359" stop-color="#b1e67f"/><stop offset="0.400" stop-color="#e7e748"/><stop offset="0.447" stop-color="#ebc842"/><stop offset="0.500" stop-color="#ecbf40"/><stop offset="0.553" stop-color="#ebc842"/><stop offset="0.600" stop-color="#e7e748"/><stop offset="0.641" stop-color="#b1e67f"/><stop offset="0.682" stop-color="#7ddcd2"/><stop offset="0.706" stop-color="#5fc3e0"/><stop offset="0.729" stop-color="#4e92d4"/><stop offset="0.753" stop-color="#406ec8"/><stop offset="0.794" stop-color="#364eb1"/><stop offset="1.000" stop-color="#4142a7"/></linearGradient><linearGradient id="r29" x1="0" x2="1" y1="0" y2="0"><stop offset="0.000" stop-color="#4241a7"/><stop offset="0.206" stop-color="#364caf"/><stop offset="0.247" stop-color="#3f6dc7"/><stop offset="0.294" stop-color="#61c4df"/><stop offset="0.318" stop-color="#80ded0"/><stop offset="0.353" stop-color="#ade682"/><stop offset="0.394" stop-color="#e8e747"/><stop offset="0.441" stop-color="#ecc441"/><stop offset="0.500" stop-color="#edb93f"/><stop offset="0.559" stop-color="#ecc441"/><stop offset="0.606" stop-color="#e8e747"/><stop offset="0.647" stop-color="#ade682"/><stop offset="0.682" stop-color="#80ded0"/><stop offset="0.706" stop-color="#61c4df"/><stop offset="0.753" stop-color="#3f6dc7"/><stop offset="0.794" stop-color="#364caf"/><stop offset="1.000" stop-color="#4241a7"/></linearGradient><linearGradient id="r30" x1="0" x2="1" y1="0" y2="0"><stop offset="0.000" stop-color="#4340a6"/><stop offset="0.212" stop-color="#364daf"/><stop offset="0.247" stop-color="#3f6bc6"/><stop offset="0.294" stop-color="#63c6df"/><stop offset="0.318" stop-color="#83decb"/><stop offset="0.353" stop-color="#b4e67c"/><stop offset="0.388" stop-color="#e8e747"/><stop offset="0.441" stop-color="#edbd40"/><stop offset="0.500" stop-color="#eeb23e"/><stop offset="0.559" stop-color="#edbd40"/><stop offset="0.612" stop-color="#e8e747"/><stop offset="0.647" stop-color="#b4e67c"/><stop offset="0.682" stop-color="#83decb"/><stop offset="0.706" stop-color="#63c6df"/><stop offset="0.753" stop-color="#3f6bc6"/><stop offset="0.788" stop-color="#364daf"/><stop offset="1.000" stop-color="#4340a6"/></linearGradient><linearGradient id="r31" x1="0" x2="1" y1="0" y2="0"><stop offset="0.000" stop-color="#443fa6"/><stop offset="0.159" stop-color="#4042a8"/><stop offset="0.212" stop-color="#364bae"/><stop offset="0.247" stop-color="#3e6ac6"/><stop offset="0.271" stop-color="#4f94d4"/><stop offset="0.288" stop-color="#5dbedf"/><stop offset="0.312" stop-color="#7edcd2"/><stop offset="0.347" stop-color="#afe681"/><stop offset="0.382" stop-color="#e7e748"/><stop offset="0.435" stop-color="#edb93f"/><stop offset="0.500" stop-color="#efab3d"/><stop offset="0.565" stop-color="#edb93f"/><stop offset="0.618" stop-color="#e7e748"/><stop offset="0.653" stop-color="#afe681"/><stop offset="0.688" stop-color="#7edcd2"/><stop offset="0.712" stop-color="#5dbedf"/><stop offset="0.729" stop-color="#4f94d4"/><stop offset="0.753" stop-color="#3e6ac6"/><stop offset="0.788" stop-color="#364bae"/><stop offset="0.841" stop-color="#4042a8"/><stop offset="1.000" stop-color="#443fa6"/></linearGradient><linearGradient id="r32" x1="0" x2="1" y1="0" y2="0"><stop offset="0.000" stop-color="#453ea5"/><stop offset="0.165" stop-color="#4142a7"/><stop offset="0.218" stop-color="#364caf"/><stop offset="0.247" stop-color="#3d68c5"/><stop offset="0.271" stop-color="#4f95d5"/><stop offset="0.288" stop-color="#5ec1e0"/><stop offset="0.312" stop-color="#81dece"/><stop offset="0.341" stop-color="#aae686"/><stop offset="0.376" stop-color="#e5e74a"/><stop offset="0.435" stop-color="#eeb33e"/><stop offset="0.500" stop-color="#efa53c"/><stop offset="0.565" stop-color="#eeb33e"/><stop offset="0.624" stop-color="#e5e74a"/><stop offset="0.659" stop-color="#aae686"/><stop offset="0.688" stop-color="#81dece"/><stop offset="0.712" stop-color="#5ec1e0"/><stop offset="0.729" stop-color="#4f95d5"/><stop offset="0.753" stop-color="#3d68c5"/><stop offset="0.782" stop-color="#364caf"/><stop offset="0.835" stop-color="#4142a7"/><stop offset="1.000" stop-color="#453ea5"/></linearGradient><linearGradient id="r33" x1="0" x2="1" y1="0" y2="0"><stop offset="0.000" stop-color="#463da4"/><stop offset="0.165" stop-color="#4241a7"/><stop offset="0.218" stop-color="#374aae"/><stop offset="0.247" stop-color="#3d67c4"/><stop offset="0.265" stop-color="#4a89d1"/><stop offset="0.288" stop-color="#60c4e0"/><stop offset="0.306" stop-color="#7cdad3"/><stop offset="0.341" stop-color="#b0e67f"/><stop offset="0.371" stop-color="#e3e74c"/><stop offset="0.429" stop-color="#eeaf3d"/><stop offset="0.494" stop-color="#ee9d3b"/><stop offset="0.565" stop-color="#efac3d"/><stop offset="0.594" stop-color="#ecc241"/><stop offset="0.624" stop-color="#e8e347"/><stop offset="0.659" stop-color="#b0e67f"/><stop offset="0.688" stop-color="#85dfc8"/><stop offset="0.712" stop-color="#60c4e0"/><stop offset="0.735" stop-color="#4a89d1"/><stop offset="0.753" stop-color="#3d67c4"/><stop offset="0.782" stop-color="#374aae"/><stop offset="0.835" stop-color="#4241a7"/><stop offset="1.000" stop-color="#463da4"/></linearGradient><linearGradient id="r34" x1="0" x2="1" y1="0" y2="0"><stop offset="0.000" stop-color="#463da3"/><stop offset="0.171" stop-color="#4340a6"/><stop offset="0.224" stop-color="#364bae"/><stop offset="0.253" stop-color="#4170c8"/><stop offset="0.288" stop-color="#62c6df"/><stop offset="0.306" stop-color="#7fddd2"/><stop offset="0.335" stop-color="#abe685"/><stop offset="0.365" stop-color="#e1e74e"/><stop offset="0.429" stop-color="#efa93c"/><stop offset="0.465" stop-color="#ee993a"/><stop offset="0.500" stop-color="#ed963a"/><stop offset="0.535" stop-color="#ee993a"/><stop offset="0.571" stop-color="#efa93c"/><stop offset="0.600" stop-color="#ecc141"/><stop offset="0.629" stop-color="#e8e547"/><stop offset="0.665" stop-color="#abe685"/><stop offset="0.694" stop-color="#7fddd2"/><stop offset="0.712" stop-color="#62c6df"/><stop offset="0.747" stop-color="#4170c8"/><stop offset="0.776" stop-color="#364bae"/><stop offset="0.829" stop-color="#4340a6"/><stop offset="1.000" stop-color="#463da3"/></linearGradient><linearGradient id="r35" x1="0" x2="1" y1="0" y2="0"><stop offset="0.000" stop-color="#463ca2"/><stop offset="0.165" stop-color="#443fa5"/><stop offset="0.218" stop-color="#3a48ac"/><stop offset="0.247" stop-color="#3d66c4"/><stop offset="0.265" stop-color="#4c8dd2"/><stop offset="0.282" stop-color="#5ec1e0"/><stop offset="0.300" stop-color="#7ddbd3"/><stop offset="0.329" stop-color="#ace684"/><stop offset="0.359" stop-color="#e4e74b"/><stop offset="0.394" stop-color="#edbc40"/><stop offset="0.429" stop-color="#ef9e3b"/><stop offset="0.494" stop-color="#eb8b38"/><stop offset="0.565" stop-color="#ee9b3a"/><stop offset="0.600" stop-color="#edb63f"/><stop offset="0.635" stop-color="#e8e247"/><stop offset="0.665" stop-color="#b9e677"/><stop offset="0.694" stop-color="#87dfc4"/><stop offset="0.700" stop-color="#7ddbd3"/><stop offset="0.718" stop-color="#5ec1e0"/><stop offset="0.735" stop-color="#4c8dd2"/><stop offset="0.753" stop-color="#3d66c4"/><stop offset="0.782" stop-color="#3a48ac"/><stop offset="0.835" stop-color="#443fa5"/><stop offset="1.000" stop-color="#463ca2"/></linearGradient><linearGradient id="r36" x1="0" x2="1" y1="0" y2="0"><stop offset="0.000" stop-color="#463ca1"/><stop offset="0.165" stop-color="#453ea5"/><stop offset="0.218" stop-color="#3b47ab"/><stop offset="0.247" stop-color="#3e69c6"/><stop offset="0.276" stop-color="#5dbedf"/><stop offset="0.294" stop-color="#7fddd2"/><stop offset="0.318" stop-color="#a6e68a"/><stop offset="0.347" stop-color="#e3e74c"/><stop offset="0.388" stop-color="#eeb33e"/><stop offset="0.424" stop-color="#ed9439"/><stop offset="0.459" stop-color="#ea8237"/><stop offset="0.494" stop-color="#e97e36"/><stop offset="0.535" stop-color="#ea8137"/><stop offset="0.571" stop-color="#ec9039"/><stop offset="0.612" stop-color="#eeb33e"/><stop offset="0.647" stop-color="#e8e247"/><stop offset="0.676" stop-color="#b5e67b"/><stop offset="0.700" stop-color="#8ae0be"/><stop offset="0.706" stop-color="#7fddd2"/><stop offset="0.724" stop-color="#5dbedf"/><stop offset="0.753" stop-color="#3e69c6"/><stop offset="0.782" stop-color="#3b47ab"/><stop offset="0.835" stop-color="#453ea5"/><stop offset="1.000" stop-color="#463ca1"/></linearGradient><linearGradient id="r37" x1="0" x2="1" y1="0" y2="0"><stop offset="0.000" stop-color="#463ba0"/><stop offset="0.176" stop-color="#453ea5"/><stop offset="0.218" stop-color="#3c46ab"/><stop offset="0.229" stop-color="#364eb1"/><stop offset="0.247" stop-color="#3f6bc6"/><stop offset="0.276" stop-color="#65c8de"/><stop offset="0.288" stop-color="#7fddd2"/><stop offset="0.300" stop-color="#97e2a6"/><stop offset="0.324" stop-color="#cae765"/><stop offset="0.341" stop-color="#e8e347"/><stop offset="0.376" stop-color="#eeb13e"/><stop offset="0.424" stop-color="#ea8537"/><stop offset="0.459" stop-color="#e87535"/><stop offset="0.506" stop-color="#e77035"/><stop offset="0.547" stop-color="#e87635"/><stop offset="0.582" stop-color="#eb8938"/><stop offset="0.618" stop-color="#efaa3c"/><stop offset="0.665" stop-color="#e2e74d"/><stop offset="0.688" stop-color="#aee682"/><stop offset="0.712" stop-color="#7fddd2"/><stop offset="0.724" stop-color="#65c8de"/><stop offset="0.753" stop-color="#3f6bc6"/><stop offset="0.771" stop-color="#364eb1"/><stop offset="0.782" stop-color="#3c46ab"/><stop offset="0.824" stop-color="#453ea5"/><stop offset="1.000" stop-color="#463ba0"/></linearGradient><linearGradient id="r38" x1="0" x2="1" y1="0" y2="0"><stop offset="0.000" stop-color="#463b9f"/><stop offset="0.188" stop-color="#453ea5"/><stop offset="0.218" stop-color="#3d45aa"/><stop offset="0.229" stop-color="#364db0"/><stop offset="0.247" stop-color="#3f6dc7"/><stop offset="0.259" stop-color="#4e92d4"/><stop offset="0.271" stop-color="#5fc3e0"/><stop offset="0.282" stop-color="#7ddcd3"/><stop offset="0.288" stop-color="#8be0bb"/><stop offset="0.306" stop-color="#b5e67b"/><stop offset="0.329" stop-color="#e8e447"/><stop offset="0.365" stop-color="#eeae3d"/><stop offset="0.412" stop-color="#e97e36"/><stop offset="0.453" stop-color="#e66934"/><stop offset="0.506" stop-color="#e56333"/><stop offset="0.547" stop-color="#e66934"/><stop offset="0.588" stop-color="#e97e36"/><stop offset="0.629" stop-color="#efa73c"/><stop offset="0.671" stop-color="#e8e447"/><stop offset="0.676" stop-color="#e0e74f"/><stop offset="0.700" stop-color="#a4e58d"/><stop offset="0.718" stop-color="#7ddcd3"/><stop offset="0.729" stop-color="#5fc3e0"/><stop offset="0.741" stop-color="#4e92d4"/><stop offset="0.753" stop-color="#3f6dc7"/><stop offset="0.771" stop-color="#364db0"/><stop offset="0.782" stop-color="#3d45aa"/><stop offset="0.812" stop-color="#453ea5"/><stop offset="1.000" stop-color="#463b9f"/></linearGradient><linearGradient id="r39" x1="0" x2="1" y1="0" y2="0"><stop offset="0.000" stop-color="#463b9e"/><stop offset="0.194" stop-color="#463da4"/><stop offset="0.218" stop-color="#3f43a9"/><stop offset="0.235" stop-color="#3854b5"/><stop offset="0.253" stop-color="#4882ce"/><stop offset="0.271" stop-color="#68cadc"/><stop offset="0.276" stop-color="#79d8d4"/><stop offset="0.282" stop-color="#8ae0be"/><stop offset="0.294" stop-color="#a7e689"/><stop offset="0.312" stop-color="#dbe754"/><stop offset="0.318" stop-color="#e8e647"/><stop offset="0.335" stop-color="#ecc641"/><stop offset="0.388" stop-color="#ea8337"/><stop offset="0.453" stop-color="#e45b32"/><stop offset="0.541" stop-color="#e35932"/><stop offset="0.576" stop-color="#e66733"/><stop offset="0.612" stop-color="#ea8337"/><stop offset="0.641" stop-color="#efa53c"/><stop offset="0.682" stop-color="#e8e647"/><stop offset="0.688" stop-color="#dbe754"/><stop offset="0.706" stop-color="#a7e689"/><stop offset="0.718" stop-color="#8ae0be"/><stop offset="0.724" stop-color="#79d8d4"/><stop offset="0.729" stop-color="#68cadc"/><stop offset="0.747" stop-color="#4882ce"/><stop offset="0.765" stop-color="#3854b5"/><stop offset="0.782" stop-color="#3f43a9"/><stop offset="0.806" stop-color="#463da4"/><stop offset="1.000" stop-color="#463b9e"/></linearGradient><linearGradient id="r40" x1="0" x2="1" y1="0" y2="0"><stop offset="0.000" stop-color="#463a9d"/><stop offset="0.218" stop-color="#4142a7"/><stop offset="0.229" stop-color="#3849ad"/><stop offset="0.241" stop-color="#3a5ebd"/><stop offset="0.253" stop-color="#4984cf"/><stop offset="0.265" stop-color="#5ec0e0"/><stop offset="0.276" stop-color="#85dfc8"/><stop offset="0.288" stop-color="#a8e688"/><stop offset="0.306" stop-color="#e3e74c"/><stop offset="0.341" stop-color="#efab3d"/><stop offset="0.365" stop-color="#ec8c38"/><stop offset="0.424" stop-color="#e35932"/><stop offset="0.512" stop-color="#e05232"/><stop offset="0.582" stop-color="#e45c32"/><stop offset="0.641" stop-color="#ed9339"/><stop offset="0.694" stop-color="#e3e74c"/><stop offset="0.712" stop-color="#a8e688"/><stop offset="0.724" stop-color="#85dfc8"/><stop offset="0.735" stop-color="#5ec0e0"/><stop offset="0.747" stop-color="#4984cf"/><stop offset="0.759" stop-color="#3a5ebd"/><stop offset="0.771" stop-color="#3849ad"/><stop offset="0.782" stop-color="#4142a7"/><stop offset="1.000" stop-color="#463a9d"/></linearGradient><linearGradient id="r41" x1="0" x2="1" y1="0" y2="0"><stop offset="0.000" stop-color="#463a9d"/><stop offset="0.200" stop-color="#463ca2"/><stop offset="0.235" stop-color="#364eb1"/><stop offset="0.247" stop-color="#3f6dc7"/><stop offset="0.265" stop-color="#65c7de"/><stop offset="0.271" stop-color="#7cdad3"/><stop offset="0.282" stop-color="#a5e68b"/><stop offset="0.294" stop-color="#d8e757"/><stop offset="0.300" stop-color="#e8e447"/><stop offset="0.306" stop-color="#ead544"/><stop offset="0.324" stop-color="#eeb33e"/><stop offset="0.359" stop-color="#ea8137"/><stop offset="0.400" stop-color="#e35932"/><stop offset="0.418" stop-color="#e15432"/><stop offset="0.518" stop-color="#de4d32"/><stop offset="0.600" stop-color="#e35932"/><stop offset="0.635" stop-color="#e97a36"/><stop offset="0.671" stop-color="#efaa3c"/><stop offset="0.700" stop-color="#e8e447"/><stop offset="0.706" stop-color="#d8e757"/><stop offset="0.718" stop-color="#a5e68b"/><stop offset="0.729" stop-color="#7cdad3"/><stop offset="0.735" stop-color="#65c7de"/><stop offset="0.753" stop-color="#3f6dc7"/><stop offset="0.765" stop-color="#364eb1"/><stop offset="0.800" stop-color="#463ca2"/><stop offset="1.000" stop-color="#463a9d"/></linearGradient><linearGradient id="r42" x1="0" x2="1" y1="0" y2="0"><stop offset="0.000" stop-color="#47399c"/><stop offset="0.212" stop-color="#463da3"/><stop offset="0.229" stop-color="#3e44a9"/><stop offset="0.241" stop-color="#3958b8"/><stop offset="0.253" stop-color="#4a88d0"/><stop offset="0.259" stop-color="#58afdb"/><stop offset="0.265" stop-color="#6ecfda"/><stop offset="0.271" stop-color="#89e0bf"/><stop offset="0.276" stop-color="#a2e590"/><stop offset="0.288" stop-color="#e0e74f"/><stop offset="0.312" stop-color="#eeae3d"/><stop offset="0.347" stop-color="#e87836"/><stop offset="0.376" stop-color="#e35832"/><stop offset="0.412" stop-color="#de4d32"/><stop offset="0.529" stop-color="#da4432"/><stop offset="0.624" stop-color="#e35832"/><stop offset="0.676" stop-color="#ee9a3a"/><stop offset="0.706" stop-color="#e9d945"/><stop offset="0.712" stop-color="#e0e74f"/><stop offset="0.724" stop-color="#a2e590"/><stop offset="0.729" stop-color="#89e0bf"/><stop offset="0.735" stop-color="#6ecfda"/><stop offset="0.741" stop-color="#58afdb"/><stop offset="0.747" stop-color="#4a88d0"/><stop offset="0.759" stop-color="#3958b8"/><stop offset="0.771" stop-color="#3e44a9"/><stop offset="0.788" stop-color="#463da3"/><stop offset="1.000" stop-color="#47399c"/></linearGradient><linearGradient id="r43" x1="0" x2="1" y1="0" y2="0"><stop offset="0.000" stop-color="#473591"/><stop offset="0.241" stop-color="#473591"/><stop offset="0.247" stop-color="#3b61c0"/><stop offset="0.259" stop-color="#56abda"/><stop offset="0.265" stop-color="#6fd0d9"/><stop offset="0.271" stop-color="#8de1b7"/><stop offset="0.282" stop-color="#d5e75b"/><stop offset="0.288" stop-color="#e9dc45"/><stop offset="0.306" stop-color="#efa43b"/><stop offset="0.347" stop-color="#e45d32"/><stop offset="0.412" stop-color="#d94132"/><stop offset="0.547" stop-color="#d53932"/><stop offset="0.647" stop-color="#e35832"/><stop offset="0.671" stop-color="#e87635"/><stop offset="0.694" stop-color="#efa43b"/><stop offset="0.712" stop-color="#e9dc45"/><stop offset="0.718" stop-color="#d5e75b"/><stop offset="0.729" stop-color="#8de1b7"/><stop offset="0.735" stop-color="#6fd0d9"/><stop offset="0.741" stop-color="#56abda"/><stop offset="0.753" stop-color="#3b61c0"/><stop offset="0.759" stop-color="#473591"/><stop offset="1.000" stop-color="#473591"/></linearGradient><linearGradient id="r44" x1="0" x2="1" y1="0" y2="0"><stop offset="0.000" stop-color="#473591"/><stop offset="0.241" stop-color="#473591"/><stop offset="0.247" stop-color="#3d65c3"/><stop offset="0.253" stop-color="#4a87d0"/><stop offset="0.259" stop-color="#5ab6dd"/><stop offset="0.265" stop-color="#77d7d5"/><stop offset="0.276" stop-color="#c4e66c"/><stop offset="0.282" stop-color="#e8e247"/><stop offset="0.288" stop-color="#ecc341"/><stop offset="0.306" stop-color="#eb8637"/><stop offset="0.329" stop-color="#e35932"/><stop offset="0.400" stop-color="#d53932"/><stop offset="0.453" stop-color="#c53532"/><stop offset="0.518" stop-color="#c33432"/><stop offset="0.600" stop-color="#d53932"/><stop offset="0.653" stop-color="#df4f32"/><stop offset="0.676" stop-color="#e56333"/><stop offset="0.694" stop-color="#eb8637"/><stop offset="0.706" stop-color="#efab3d"/><stop offset="0.718" stop-color="#e8e247"/><stop offset="0.724" stop-color="#c4e66c"/><stop offset="0.735" stop-color="#77d7d5"/><stop offset="0.741" stop-color="#5ab6dd"/><stop offset="0.747" stop-color="#4a87d0"/><stop offset="0.753" stop-color="#3d65c3"/><stop offset="0.759" stop-color="#473591"/><stop offset="1.000" stop-color="#473591"/></linearGradient><linearGradient id="r45" x1="0" x2="1" y1="0" y2="0"><stop offset="0.000" stop-color="#473591"/><stop offset="0.241" stop-color="#473591"/><stop offset="0.247" stop-color="#3e69c6"/><stop offset="0.253" stop-color="#4c8dd2"/><stop offset="0.259" stop-color="#5dc0e0"/><stop offset="0.265" stop-color="#7fddd2"/><stop offset="0.271" stop-color="#a3e58e"/><stop offset="0.276" stop-color="#d8e757"/><stop offset="0.282" stop-color="#ebcc43"/><stop offset="0.288" stop-color="#efac3d"/><stop offset="0.300" stop-color="#e97d36"/><stop offset="0.312" stop-color="#e45f32"/><stop offset="0.371" stop-color="#d63a32"/><stop offset="0.435" stop-color="#bb3232"/><stop offset="0.512" stop-color="#b53132"/><stop offset="0.571" stop-color="#bc3332"/><stop offset="0.647" stop-color="#d94232"/><stop offset="0.688" stop-color="#e45f32"/><stop offset="0.700" stop-color="#e97d36"/><stop offset="0.712" stop-color="#efac3d"/><stop offset="0.718" stop-color="#ebcc43"/><stop offset="0.724" stop-color="#d8e757"/><stop offset="0.729" stop-color="#a3e58e"/><stop offset="0.735" stop-color="#7fddd2"/><stop offset="0.741" stop-color="#5dc0e0"/><stop offset="0.747" stop-color="#4c8dd2"/><stop offset="0.753" stop-color="#3e69c6"/><stop offset="0.759" stop-color="#473591"/><stop offset="1.000" stop-color="#473591"/></linearGradient><linearGradient id="r46" x1="0" x2="1" y1="0" y2="0"><stop offset="0.000" stop-color="#473591"/><stop offset="0.241" stop-color="#473591"/><stop offset="0.247" stop-color="#3f6dc7"/><stop offset="0.253" stop-color="#4e93d4"/><stop offset="0.259" stop-color="#63c6de"/><stop offset="0.265" stop-color="#88dfc1"/><stop offset="0.271" stop-color="#b5e67b"/><stop offset="0.276" stop-color="#e8e247"/><stop offset="0.288" stop-color="#ed9439"/><stop offset="0.300" stop-color="#e56333"/><stop offset="0.306" stop-color="#e25732"/><stop offset="0.353" stop-color="#d23932"/><stop offset="0.424" stop-color="#b02f32"/><stop offset="0.512" stop-color="#a72d32"/><stop offset="0.588" stop-color="#b33032"/><stop offset="0.653" stop-color="#d63a32"/><stop offset="0.688" stop-color="#e05132"/><stop offset="0.700" stop-color="#e56333"/><stop offset="0.712" stop-color="#ed9439"/><stop offset="0.724" stop-color="#e8e247"/><stop offset="0.729" stop-color="#b5e67b"/><stop offset="0.735" stop-color="#88dfc1"/><stop offset="0.741" stop-color="#63c6de"/><stop offset="0.747" stop-color="#4e93d4"/><stop offset="0.753" stop-color="#3f6dc7"/><stop offset="0.759" stop-color="#473591"/><stop offset="1.000" stop-color="#473591"/></linearGradient><linearGradient id="r47" x1="0" x2="1" y1="0" y2="0"><stop offset="0.000" stop-color="#473591"/><stop offset="0.241" stop-color="#473591"/><stop offset="0.247" stop-color="#4171c9"/><stop offset="0.259" stop-color="#69cbdc"/><stop offset="0.265" stop-color="#91e1b0"/><stop offset="0.271" stop-color="#c7e768"/><stop offset="0.276" stop-color="#ebce43"/><stop offset="0.288" stop-color="#e97b36"/><stop offset="0.294" stop-color="#e45f32"/><stop offset="0.306" stop-color="#dd4c32"/><stop offset="0.329" stop-color="#d53932"/><stop offset="0.412" stop-color="#a52d32"/><stop offset="0.500" stop-color="#9d2d32"/><stop offset="0.588" stop-color="#a52d32"/><stop offset="0.671" stop-color="#d53932"/><stop offset="0.694" stop-color="#dd4c32"/><stop offset="0.706" stop-color="#e45f32"/><stop offset="0.712" stop-color="#e97b36"/><stop offset="0.724" stop-color="#ebce43"/><stop offset="0.729" stop-color="#c7e768"/><stop offset="0.735" stop-color="#91e1b0"/><stop offset="0.741" stop-color="#69cbdc"/><stop offset="0.753" stop-color="#4171c9"/><stop offset="0.759" stop-color="#473591"/><stop offset="1.000" stop-color="#473591"/></linearGradient><linearGradient id="r48" x1="0" x2="1" y1="0" y2="0"><stop offset="0.000" stop-color="#473591"/><stop offset="0.241" stop-color="#473591"/><stop offset="0.247" stop-color="#4275ca"/><stop offset="0.253" stop-color="#53a1d8"/><stop offset="0.259" stop-color="#6fd0d9"/><stop offset="0.265" stop-color="#98e3a3"/><stop offset="0.271" stop-color="#d6e759"/><stop offset="0.276" stop-color="#edbe40"/><stop offset="0.288" stop-color="#e66733"/><stop offset="0.294" stop-color="#e15332"/><stop offset="0.312" stop-color="#d73d32"/><stop offset="0.329" stop-color="#c93632"/><stop offset="0.394" stop-color="#a22d32"/><stop offset="0.529" stop-color="#982e32"/><stop offset="0.618" stop-color="#a62d32"/><stop offset="0.682" stop-color="#d43932"/><stop offset="0.706" stop-color="#e15332"/><stop offset="0.712" stop-color="#e66733"/><stop offset="0.724" stop-color="#edbe40"/><stop offset="0.729" stop-color="#d6e759"/><stop offset="0.735" stop-color="#98e3a3"/><stop offset="0.741" stop-color="#6fd0d9"/><stop offset="0.747" stop-color="#53a1d8"/><stop offset="0.753" stop-color="#4275ca"/><stop offset="0.759" stop-color="#473591"/><stop offset="1.000" stop-color="#473591"/></linearGradient><linearGradient id="r49" x1="0" x2="1" y1="0" y2="0"><stop offset="0.000" stop-color="#473591"/><stop offset="0.241" stop-color="#473591"/><stop offset="0.247" stop-color="#4478cb"/><stop offset="0.253" stop-color="#55a6d9"/><stop offset="0.259" stop-color="#73d3d7"/><stop offset="0.265" stop-color="#9ee498"/><stop offset="0.271" stop-color="#e1e74e"/><stop offset="0.276" stop-color="#eeb13e"/><stop offset="0.282" stop-color="#e97e36"/><stop offset="0.288" stop-color="#e35932"/><stop offset="0.306" stop-color="#d73d32"/><stop offset="0.324" stop-color="#c53532"/><stop offset="0.365" stop-color="#a82d32"/><stop offset="0.394" stop-color="#9e2d32"/><stop offset="0.529" stop-color="#942e33"/><stop offset="0.629" stop-color="#a52d32"/><stop offset="0.688" stop-color="#d23932"/><stop offset="0.712" stop-color="#e35932"/><stop offset="0.718" stop-color="#e97e36"/><stop offset="0.724" stop-color="#eeb13e"/><stop offset="0.729" stop-color="#e1e74e"/><stop offset="0.735" stop-color="#9ee498"/><stop offset="0.741" stop-color="#73d3d7"/><stop offset="0.747" stop-color="#55a6d9"/><stop offset="0.753" stop-color="#4478cb"/><stop offset="0.759" stop-color="#473591"/><stop offset="1.000" stop-color="#473591"/></linearGradient><linearGradient id="r50" x1="0" x2="1" y1="0" y2="0"><stop offset="0.000" stop-color="#473591"/><stop offset="0.241" stop-color="#473591"/><stop offset="0.247" stop-color="#457acc"/><stop offset="0.253" stop-color="#56aada"/><stop offset="0.259" stop-color="#77d6d6"/><stop offset="0.265" stop-color="#a3e58e"/><stop offset="0.271" stop-color="#e8e247"/><stop offset="0.276" stop-color="#efa53c"/><stop offset="0.282" stop-color="#e77035"/><stop offset="0.288" stop-color="#e05332"/><stop offset="0.306" stop-color="#d13832"/><stop offset="0.359" stop-color="#a42d32"/><stop offset="0.459" stop-color="#912e33"/><stop offset="0.594" stop-color="#972e32"/><stop offset="0.641" stop-color="#a42d32"/><stop offset="0.676" stop-color="#bc3332"/><stop offset="0.700" stop-color="#d73d32"/><stop offset="0.712" stop-color="#e05332"/><stop offset="0.718" stop-color="#e77035"/><stop offset="0.724" stop-color="#efa53c"/><stop offset="0.729" stop-color="#e8e247"/><stop offset="0.735" stop-color="#a3e58e"/><stop offset="0.741" stop-color="#77d6d6"/><stop offset="0.747" stop-color="#56aada"/><stop offset="0.753" stop-color="#457acc"/><stop offset="0.759" stop-color="#473591"/><stop offset="1.000" stop-color="#473591"/></linearGradient><linearGradient id="r51" x1="0" x2="1" y1="0" y2="0"><stop offset="0.000" stop-color="#473591"/><stop offset="0.241" stop-color="#473591"/><stop offset="0.247" stop-color="#467dcd"/><stop offset="0.253" stop-color="#58afdb"/><stop offset="0.259" stop-color="#7ad9d4"/><stop offset="0.265" stop-color="#abe685"/><stop offset="0.271" stop-color="#e9d845"/><stop offset="0.276" stop-color="#ee983a"/><stop offset="0.282" stop-color="#e56233"/><stop offset="0.288" stop-color="#de4d32"/><stop offset="0.306" stop-color="#c83632"/><stop offset="0.347" stop-color="#a32d32"/><stop offset="0.459" stop-color="#8d2f33"/><stop offset="0.594" stop-color="#932e33"/><stop offset="0.653" stop-color="#a32d32"/><stop offset="0.676" stop-color="#b43132"/><stop offset="0.700" stop-color="#d23932"/><stop offset="0.712" stop-color="#de4d32"/><stop offset="0.718" stop-color="#e56233"/><stop offset="0.724" stop-color="#ee983a"/><stop offset="0.729" stop-color="#e9d845"/><stop offset="0.735" stop-color="#abe685"/><stop offset="0.741" stop-color="#7ad9d4"/><stop offset="0.747" stop-color="#58afdb"/><stop offset="0.753" stop-color="#467dcd"/><stop offset="0.759" stop-color="#473591"/><stop offset="1.000" stop-color="#473591"/></linearGradient><linearGradient id="r52" x1="0" x2="1" y1="0" y2="0"><stop offset="0.000" stop-color="#473591"/><stop offset="0.241" stop-color="#473591"/><stop offset="0.247" stop-color="#4780ce"/><stop offset="0.253" stop-color="#59b3dd"/><stop offset="0.259" stop-color="#7edcd2"/><stop offset="0.265" stop-color="#b4e67b"/><stop offset="0.271" stop-color="#ebcd43"/><stop offset="0.276" stop-color="#eb8b38"/><stop offset="0.282" stop-color="#e35832"/><stop offset="0.294" stop-color="#d63a32"/><stop offset="0.306" stop-color="#bf3432"/><stop offset="0.347" stop-color="#9f2d32"/><stop offset="0.459" stop-color="#8a2f33"/><stop offset="0.588" stop-color="#8e2f33"/><stop offset="0.676" stop-color="#ab2e32"/><stop offset="0.706" stop-color="#d63a32"/><stop offset="0.718" stop-color="#e35832"/><stop offset="0.724" stop-color="#eb8b38"/><stop offset="0.729" stop-color="#ebcd43"/><stop offset="0.735" stop-color="#b4e67b"/><stop offset="0.741" stop-color="#7edcd2"/><stop offset="0.747" stop-color="#59b3dd"/><stop offset="0.753" stop-color="#4780ce"/><stop offset="0.759" stop-color="#473591"/><stop offset="1.000" stop-color="#473591"/></linearGradient><linearGradient id="r53" x1="0" x2="1" y1="0" y2="0"><stop offset="0.000" stop-color="#473898"/><stop offset="0.218" stop-color="#463a9d"/><stop offset="0.229" stop-color="#3b47ab"/><stop offset="0.235" stop-color="#3958b9"/><stop offset="0.241" stop-color="#4376ca"/><stop offset="0.247" stop-color="#54a5d9"/><stop offset="0.253" stop-color="#74d4d7"/><stop offset="0.259" stop-color="#a3e58f"/><stop offset="0.265" stop-color="#e9dd46"/><stop offset="0.271" stop-color="#ed983a"/><stop offset="0.276" stop-color="#e45d32"/><stop offset="0.282" stop-color="#dc4832"/><stop offset="0.288" stop-color="#d63b32"/><stop offset="0.300" stop-color="#be3332"/><stop offset="0.324" stop-color="#a42d32"/><stop offset="0.341" stop-color="#9d2d32"/><stop offset="0.453" stop-color="#882f33"/><stop offset="0.588" stop-color="#8c2f33"/><stop offset="0.682" stop-color="#a92e32"/><stop offset="0.706" stop-color="#c93632"/><stop offset="0.718" stop-color="#dc4832"/><stop offset="0.724" stop-color="#e45d32"/><stop offset="0.729" stop-color="#ed983a"/><stop offset="0.735" stop-color="#e9dd46"/><stop offset="0.741" stop-color="#a3e58f"/><stop offset="0.747" stop-color="#74d4d7"/><stop offset="0.753" stop-color="#54a5d9"/><stop offset="0.759" stop-color="#4376ca"/><stop offset="0.765" stop-color="#3958b9"/><stop offset="0.771" stop-color="#3b47ab"/><stop offset="0.782" stop-color="#463a9d"/><stop offset="1.000" stop-color="#473898"/></linearGradient><linearGradient id="r54" x1="0" x2="1" y1="0" y2="0"><stop offset="0.000" stop-color="#3c65c3"/><stop offset="0.224" stop-color="#3c65c3"/><stop offset="0.229" stop-color="#406ec7"/><stop offset="0.241" stop-color="#6bccdb"/><stop offset="0.247" stop-color="#98e3a3"/><stop offset="0.253" stop-color="#e0e74f"/><stop offset="0.259" stop-color="#efa93c"/><stop offset="0.265" stop-color="#e66b34"/><stop offset="0.271" stop-color="#de4e32"/><stop offset="0.288" stop-color="#c33532"/><stop offset="0.306" stop-color="#ae2f32"/><stop offset="0.329" stop-color="#a02d32"/><stop offset="0.441" stop-color="#882f33"/><stop offset="0.576" stop-color="#8a2f33"/><stop offset="0.682" stop-color="#a42d32"/><stop offset="0.706" stop-color="#ba3232"/><stop offset="0.724" stop-color="#d83f32"/><stop offset="0.729" stop-color="#de4e32"/><stop offset="0.735" stop-color="#e66b34"/><stop offset="0.741" stop-color="#efa93c"/><stop offset="0.747" stop-color="#e0e74f"/><stop offset="0.753" stop-color="#98e3a3"/><stop offset="0.759" stop-color="#6bccdb"/><stop offset="0.771" stop-color="#406ec7"/><stop offset="0.776" stop-color="#3c65c3"/><stop offset="1.000" stop-color="#3c65c3"/></linearGradient><linearGradient id="r55" x1="0" x2="1" y1="0" y2="0"><stop offset="0.000" stop-color="#55a7d9"/><stop offset="0.224" stop-color="#55a7d9"/><stop offset="0.229" stop-color="#62c5df"/><stop offset="0.235" stop-color="#8de0b7"/><stop offset="0.241" stop-color="#cee762"/><stop offset="0.247" stop-color="#edb93f"/><stop offset="0.253" stop-color="#e97a36"/><stop offset="0.259" stop-color="#e15332"/><stop offset="0.265" stop-color="#da4432"/><stop offset="0.271" stop-color="#d53932"/><stop offset="0.294" stop-color="#b23032"/><stop offset="0.329" stop-color="#9e2d32"/><stop offset="0.412" stop-color="#8b2f33"/><stop offset="0.518" stop-color="#872f33"/><stop offset="0.606" stop-color="#8e2f33"/><stop offset="0.688" stop-color="#a42d32"/><stop offset="0.712" stop-color="#b83232"/><stop offset="0.729" stop-color="#d53932"/><stop offset="0.741" stop-color="#e15332"/><stop offset="0.747" stop-color="#e97a36"/><stop offset="0.753" stop-color="#edb93f"/><stop offset="0.759" stop-color="#cee762"/><stop offset="0.765" stop-color="#8de0b7"/><stop offset="0.771" stop-color="#62c5df"/><stop offset="0.776" stop-color="#55a7d9"/><stop offset="1.000" stop-color="#55a7d9"/></linearGradient><linearGradient id="r56" x1="0" x2="1" y1="0" y2="0"><stop offset="0.000" stop-color="#7cdad3"/><stop offset="0.218" stop-color="#7cdad3"/><stop offset="0.224" stop-color="#83decb"/><stop offset="0.229" stop-color="#bbe674"/><stop offset="0.235" stop-color="#ebc942"/><stop offset="0.241" stop-color="#eb8a38"/><stop offset="0.247" stop-color="#e35832"/><stop offset="0.253" stop-color="#dc4832"/><stop offset="0.265" stop-color="#ce3732"/><stop offset="0.306" stop-color="#a52d32"/><stop offset="0.429" stop-color="#892f33"/><stop offset="0.594" stop-color="#8c2f33"/><stop offset="0.694" stop-color="#a52d32"/><stop offset="0.735" stop-color="#ce3732"/><stop offset="0.753" stop-color="#e35832"/><stop offset="0.759" stop-color="#eb8a38"/><stop offset="0.765" stop-color="#ebc942"/><stop offset="0.771" stop-color="#bbe674"/><stop offset="0.776" stop-color="#83decb"/><stop offset="0.782" stop-color="#7cdad3"/><stop offset="1.000" stop-color="#7cdad3"/></linearGradient><linearGradient id="r57" x1="0" x2="1" y1="0" y2="0"><stop offset="0.000" stop-color="#b5e67b"/><stop offset="0.218" stop-color="#b5e67b"/><stop offset="0.224" stop-color="#e9da45"/><stop offset="0.229" stop-color="#ee993a"/><stop offset="0.235" stop-color="#e56433"/><stop offset="0.241" stop-color="#de4d32"/><stop offset="0.253" stop-color="#d33932"/><stop offset="0.271" stop-color="#bb3232"/><stop offset="0.300" stop-color="#a52d32"/><stop offset="0.412" stop-color="#8b2f33"/><stop offset="0.553" stop-color="#882f33"/><stop offset="0.671" stop-color="#9b2d32"/><stop offset="0.700" stop-color="#a52d32"/><stop offset="0.729" stop-color="#bb3232"/><stop offset="0.747" stop-color="#d33932"/><stop offset="0.759" stop-color="#de4d32"/><stop offset="0.765" stop-color="#e56433"/><stop offset="0.771" stop-color="#ee993a"/><stop offset="0.776" stop-color="#e9da45"/><stop offset="0.782" stop-color="#b5e67b"/><stop offset="1.000" stop-color="#b5e67b"/></linearGradient><linearGradient id="r58" x1="0" x2="1" y1="0" y2="0"><stop offset="0.000" stop-color="#ecc241"/><stop offset="0.212" stop-color="#ecc241"/><stop offset="0.218" stop-color="#efa93c"/><stop offset="0.224" stop-color="#e77135"/><stop offset="0.229" stop-color="#e05232"/><stop offset="0.241" stop-color="#d63b32"/><stop offset="0.271" stop-color="#b53132"/><stop offset="0.341" stop-color="#972e32"/><stop offset="0.453" stop-color="#872f33"/><stop offset="0.588" stop-color="#8a2f33"/><stop offset="0.700" stop-color="#a32d32"/><stop offset="0.753" stop-color="#ce3832"/><stop offset="0.765" stop-color="#da4532"/><stop offset="0.771" stop-color="#e05232"/><stop offset="0.776" stop-color="#e77135"/><stop offset="0.782" stop-color="#efa93c"/><stop offset="0.788" stop-color="#ecc241"/><stop offset="1.000" stop-color="#ecc241"/></linearGradient><linearGradient id="r59" x1="0" x2="1" y1="0" y2="0"><stop offset="0.000" stop-color="#e66633"/><stop offset="0.212" stop-color="#e66633"/><stop offset="0.224" stop-color="#dc4932"/><stop offset="0.235" stop-color="#d33932"/><stop offset="0.265" stop-color="#b43132"/><stop offset="0.294" stop-color="#a32d32"/><stop offset="0.359" stop-color="#922e33"/><stop offset="0.500" stop-color="#872f33"/><stop offset="0.641" stop-color="#922e33"/><stop offset="0.706" stop-color="#a32d32"/><stop offset="0.735" stop-color="#b43132"/><stop offset="0.765" stop-color="#d33932"/><stop offset="0.776" stop-color="#dc4932"/><stop offset="0.788" stop-color="#e66633"/><stop offset="1.000" stop-color="#e66633"/></linearGradient><linearGradient id="rb" x1="0" x2="0" y1="0" y2="1"><stop offset="0.000" stop-color="#872f33"/><stop offset="0.017" stop-color="#872f33"/><stop offset="0.034" stop-color="#872f33"/><stop offset="0.051" stop-color="#873034"/><stop offset="0.068" stop-color="#873034"/><stop offset="0.085" stop-color="#873034"/><stop offset="0.102" stop-color="#873034"/><stop offset="0.119" stop-color="#873034"/><stop offset="0.136" stop-color="#873034"/><stop offset="0.153" stop-color="#873034"/><stop offset="0.169" stop-color="#873034"/><stop offset="0.186" stop-color="#873034"/><stop offset="0.203" stop-color="#873034"/><stop offset="0.220" stop-color="#873034"/><stop offset="0.237" stop-color="#873034"/><stop offset="0.254" stop-color="#922e33"/><stop offset="0.271" stop-color="#9e2d32"/><stop offset="0.288" stop-color="#b43132"/><stop offset="0.305" stop-color="#d33932"/><stop offset="0.322" stop-color="#db4732"/><stop offset="0.339" stop-color="#e25532"/><stop offset="0.356" stop-color="#e77235"/><stop offset="0.373" stop-color="#ed9539"/><stop offset="0.390" stop-color="#eeb43e"/><stop offset="0.407" stop-color="#ead244"/><stop offset="0.424" stop-color="#e3e74c"/><stop offset="0.441" stop-color="#d3e75d"/><stop offset="0.458" stop-color="#c3e66d"/><stop offset="0.475" stop-color="#b2e67e"/><stop offset="0.492" stop-color="#a3e58f"/><stop offset="0.508" stop-color="#97e3a5"/><stop offset="0.525" stop-color="#8ce0ba"/><stop offset="0.542" stop-color="#80ded0"/><stop offset="0.559" stop-color="#76d6d6"/><stop offset="0.576" stop-color="#6cceda"/><stop offset="0.593" stop-color="#64c7de"/><stop offset="0.610" stop-color="#5dbfe0"/><stop offset="0.627" stop-color="#59b3dc"/><stop offset="0.644" stop-color="#55a7d9"/><stop offset="0.661" stop-color="#529dd7"/><stop offset="0.678" stop-color="#4e93d4"/><stop offset="0.695" stop-color="#4b8bd1"/><stop offset="0.712" stop-color="#4883cf"/><stop offset="0.729" stop-color="#457bcc"/><stop offset="0.746" stop-color="#4273c9"/><stop offset="0.763" stop-color="#3f6cc7"/><stop offset="0.780" stop-color="#3d66c4"/><stop offset="0.797" stop-color="#3b61bf"/><stop offset="0.814" stop-color="#3a5bbb"/><stop offset="0.831" stop-color="#3856b7"/><stop offset="0.847" stop-color="#3750b2"/><stop offset="0.864" stop-color="#364bae"/><stop offset="0.881" stop-color="#374aae"/><stop offset="0.898" stop-color="#3849ad"/><stop offset="0.915" stop-color="#3948ac"/><stop offset="0.932" stop-color="#3a47ab"/><stop offset="0.949" stop-color="#3c46ab"/><stop offset="0.966" stop-color="#3d45aa"/><stop offset="0.983" stop-color="#3e44a9"/><stop offset="1.000" stop-color="#3f43a9"/></linearGradient><clipPath id="ci"><rect x="421.1" y="693.9" width="84.8" height="118.7"/></clipPath></defs><g clip-path="url(#ci)"><rect x="421.1" y="693.9" width="84.8" height="1.05" fill="url(#r0)"/><rect x="421.1" y="694.9" width="84.8" height="1.05" fill="url(#r1)"/><rect x="421.1" y="695.9" width="84.8" height="1.05" fill="url(#r2)"/><rect x="421.1" y="696.9" width="84.8" height="1.05" fill="url(#r3)"/><rect x="421.1" y="697.9" width="84.8" height="1.05" fill="url(#r4)"/><rect x="421.1" y="698.9" width="84.8" height="1.05" fill="url(#r5)"/><rect x="421.1" y="699.9" width="84.8" height="1.05" fill="url(#r6)"/><rect x="421.1" y="700.9" width="84.8" height="1.05" fill="url(#r7)"/><rect x="421.1" y="701.9" width="84.8" height="1.05" fill="url(#r8)"/><rect x="421.1" y="702.9" width="84.8" height="1.05" fill="url(#r9)"/><rect x="421.1" y="703.9" width="84.8" height="1.05" fill="url(#r10)"/><rect x="421.1" y="704.9" width="84.8" height="1.05" fill="url(#r11)"/><rect x="421.1" y="705.9" width="84.8" height="1.05" fill="url(#r12)"/><rect x="421.1" y="706.9" width="84.8" height="1.05" fill="url(#r13)"/><rect x="421.1" y="707.9" width="84.8" height="1.05" fill="url(#r14)"/><rect x="421.1" y="708.9" width="84.8" height="1.05" fill="url(#r15)"/><rect x="421.1" y="709.9" width="84.8" height="1.05" fill="url(#r16)"/><rect x="421.1" y="710.9" width="84.8" height="1.05" fill="url(#r17)"/><rect x="421.1" y="711.9" width="84.8" height="1.05" fill="url(#r18)"/><rect x="421.1" y="712.9" width="84.8" height="1.05" fill="url(#r19)"/><rect x="421.1" y="713.9" width="84.8" height="1.05" fill="url(#r20)"/><rect x="421.1" y="714.9" width="84.8" height="1.05" fill="url(#r21)"/><rect x="421.1" y="715.9" width="84.8" height="1.05" fill="url(#r22)"/><rect x="421.1" y="716.9" width="84.8" height="1.05" fill="url(#r23)"/><rect x="421.1" y="717.9" width="84.8" height="1.05" fill="url(#r24)"/><rect x="421.1" y="718.9" width="84.8" height="1.05" fill="url(#r25)"/><rect x="421.1" y="719.9" width="84.8" height="1.05" fill="url(#r26)"/><rect x="421.1" y="720.9" width="84.8" height="1.05" fill="url(#r27)"/><rect x="421.1" y="721.9" width="84.8" height="1.05" fill="url(#r28)"/><rect x="421.1" y="722.9" width="84.8" height="1.05" fill="url(#r29)"/><rect x="421.1" y="723.9" width="84.8" height="1.05" fill="url(#r30)"/><rect x="421.1" y="724.9" width="84.8" height="1.05" fill="url(#r31)"/><rect x="421.1" y="725.9" width="84.8" height="1.05" fill="url(#r32)"/><rect x="421.1" y="726.9" width="84.8" height="1.05" fill="url(#r33)"/><rect x="421.1" y="727.9" width="84.8" height="1.05" fill="url(#r34)"/><rect x="421.1" y="728.9" width="84.8" height="1.05" fill="url(#r35)"/><rect x="421.1" y="729.9" width="84.8" height="1.05" fill="url(#r36)"/><rect x="421.1" y="730.9" width="84.8" height="1.05" fill="url(#r37)"/><rect x="421.1" y="731.9" width="84.8" height="1.05" fill="url(#r38)"/><rect x="421.1" y="732.9" width="84.8" height="1.05" fill="url(#r39)"/><rect x="421.1" y="733.9" width="84.8" height="1.05" fill="url(#r40)"/><rect x="421.1" y="734.9" width="84.8" height="1.05" fill="url(#r41)"/><rect x="421.1" y="735.9" width="84.8" height="1.05" fill="url(#r42)"/><rect x="421.1" y="736.9" width="84.8" height="1.05" fill="url(#r43)"/><rect x="421.1" y="737.9" width="84.8" height="1.05" fill="url(#r44)"/><rect x="421.1" y="738.9" width="84.8" height="1.05" fill="url(#r45)"/><rect x="421.1" y="739.9" width="84.8" height="1.05" fill="url(#r46)"/><rect x="421.1" y="740.9" width="84.8" height="1.05" fill="url(#r47)"/><rect x="421.1" y="741.9" width="84.8" height="1.05" fill="url(#r48)"/><rect x="421.1" y="742.9" width="84.8" height="1.05" fill="url(#r49)"/><rect x="421.1" y="743.9" width="84.8" height="1.05" fill="url(#r50)"/><rect x="421.1" y="744.9" width="84.8" height="1.05" fill="url(#r51)"/><rect x="421.1" y="745.9" width="84.8" height="1.05" fill="url(#r52)"/><rect x="421.1" y="746.9" width="84.8" height="1.05" fill="url(#r53)"/><rect x="421.1" y="747.9" width="84.8" height="1.05" fill="url(#r54)"/><rect x="421.1" y="748.9" width="84.8" height="1.05" fill="url(#r55)"/><rect x="421.1" y="749.9" width="84.8" height="1.05" fill="url(#r56)"/><rect x="421.1" y="750.9" width="84.8" height="1.05" fill="url(#r57)"/><rect x="421.1" y="751.9" width="84.8" height="1.05" fill="url(#r58)"/><rect x="421.1" y="752.9" width="84.8" height="1.05" fill="url(#r59)"/><rect x="421.1" y="753.9" width="84.8" height="58.7" fill="url(#rb)"/><line x1="421.1" y1="736.5" x2="505.90000000000003" y2="736.5" stroke="#ffffff" stroke-opacity="0.28" stroke-width="1"/><line x1="421.1" y1="747.0" x2="505.90000000000003" y2="747.0" stroke="#ffffff" stroke-opacity="0.28" stroke-width="1"/><line x1="421.1" y1="761.3" x2="505.90000000000003" y2="761.3" stroke="#ffffff" stroke-opacity="0.28" stroke-width="1"/><line x1="441.5" y1="736.5" x2="441.5" y2="747.0" stroke="#ffffff" stroke-opacity="0.28" stroke-width="1"/><line x1="485.3" y1="736.5" x2="485.3" y2="747.0" stroke="#ffffff" stroke-opacity="0.28" stroke-width="1"/><text transform="matrix(1 0 0 1 0 0)" x="432.8" y="803.6" font-family="Liberation Sans, Arial, sans-serif" font-size="38" fill="#fff">β</text><text transform="matrix(1.0973 0 0 0.8750 453.78 805.09)" font-family="Liberation Sans, Arial, Helvetica, sans-serif" font-size="38" fill="#fff">=</text><text transform="matrix(0.9589 0 0 1.0579 477.36 805.64)" font-family="Liberation Sans, Arial, Helvetica, sans-serif" font-size="38" fill="#fff">0</text></g>
<rect x="161.7" y="438.2" width="605.9" height="481.4" fill="none" stroke="#3b3b3b" stroke-width="3.2"/>
<path d="M222.3,919.6 v-7.5 M222.3,438.2 v7.5" stroke="#3b3b3b" stroke-width="2.9"/>
<path d="M343.5,919.6 v-7.5 M343.5,438.2 v7.5" stroke="#3b3b3b" stroke-width="2.9"/>
<path d="M464.7,919.6 v-7.5 M464.7,438.2 v7.5" stroke="#3b3b3b" stroke-width="2.9"/>
<path d="M585.8,919.6 v-7.5 M585.8,438.2 v7.5" stroke="#3b3b3b" stroke-width="2.9"/>
<path d="M707.0,919.6 v-7.5 M707.0,438.2 v7.5" stroke="#3b3b3b" stroke-width="2.9"/>
<path d="M161.7,823.3 h7.5 M767.6,823.3 h-7.5" stroke="#3b3b3b" stroke-width="2.9"/>
<path d="M161.7,727.0 h7.5 M767.6,727.0 h-7.5" stroke="#3b3b3b" stroke-width="2.9"/>
<path d="M161.7,630.8 h7.5 M767.6,630.8 h-7.5" stroke="#3b3b3b" stroke-width="2.9"/>
<path d="M161.7,534.5 h7.5 M767.6,534.5 h-7.5" stroke="#3b3b3b" stroke-width="2.9"/>
<text x="148" y="932.2" font-family="Liberation Sans, Arial, Helvetica, sans-serif" font-size="44" text-anchor="end">6</text>
<text x="148" y="835.9" font-family="Liberation Sans, Arial, Helvetica, sans-serif" font-size="44" text-anchor="end">7</text>
<text x="148" y="739.6" font-family="Liberation Sans, Arial, Helvetica, sans-serif" font-size="44" text-anchor="end">8</text>
<text x="148" y="643.4" font-family="Liberation Sans, Arial, Helvetica, sans-serif" font-size="44" text-anchor="end">9</text>
<text x="222.3" y="964.6" font-family="Liberation Sans, Arial, Helvetica, sans-serif" font-size="44" text-anchor="middle">-0.4</text>
<text x="343.5" y="964.6" font-family="Liberation Sans, Arial, Helvetica, sans-serif" font-size="44" text-anchor="middle">-0.2</text>
<text x="466.7" y="964.6" font-family="Liberation Sans, Arial, Helvetica, sans-serif" font-size="44" text-anchor="middle">0</text>
<text x="585.8" y="964.6" font-family="Liberation Sans, Arial, Helvetica, sans-serif" font-size="44" text-anchor="middle">0.2</text>
<text x="707.0" y="964.6" font-family="Liberation Sans, Arial, Helvetica, sans-serif" font-size="44" text-anchor="middle">0.4</text>
<text x="87" y="669.5" font-family="Liberation Sans, Arial, Helvetica, sans-serif" font-size="43.7" text-anchor="middle" transform="rotate(-90 87 669.5)">Frequency (GHz)</text>
<rect x="1016.3" y="533.3" width="592.7" height="241.5" fill="#e5e5e5"/>
<circle cx="1096.4" cy="707.3" r="7.3" fill="none" stroke="#df2e1d" stroke-width="6.3"/>
<circle cx="1134.0" cy="702.2" r="7.3" fill="none" stroke="#df2e1d" stroke-width="6.3"/>
<circle cx="1184.7" cy="697.3" r="7.3" fill="none" stroke="#df2e1d" stroke-width="6.3"/>
<circle cx="1247.3" cy="692.7" r="7.3" fill="none" stroke="#df2e1d" stroke-width="6.3"/>
<circle cx="1318.5" cy="688.1" r="7.3" fill="none" stroke="#df2e1d" stroke-width="6.3"/>
<circle cx="1391.5" cy="683.0" r="7.3" fill="none" stroke="#df2e1d" stroke-width="6.3"/>
<circle cx="1458.2" cy="678.2" r="7.3" fill="none" stroke="#df2e1d" stroke-width="6.3"/>
<circle cx="1508.1" cy="673.3" r="7.3" fill="none" stroke="#df2e1d" stroke-width="6.3"/>
<circle cx="1052.4" cy="596.4" r="7.3" fill="none" stroke="#df2e1d" stroke-width="6.3"/>
<circle cx="1111.5" cy="615.5" r="7.3" fill="none" stroke="#df2e1d" stroke-width="6.3"/>
<circle cx="1169.6" cy="625.1" r="7.3" fill="none" stroke="#df2e1d" stroke-width="6.3"/>
<circle cx="1254.0" cy="634.7" r="7.3" fill="none" stroke="#df2e1d" stroke-width="6.3"/>
<circle cx="1306.8" cy="639.7" r="7.3" fill="none" stroke="#df2e1d" stroke-width="6.3"/>
<circle cx="1363.0" cy="644.4" r="7.3" fill="none" stroke="#df2e1d" stroke-width="6.3"/>
<circle cx="1418.8" cy="649.0" r="7.3" fill="none" stroke="#df2e1d" stroke-width="6.3"/>
<circle cx="1471.2" cy="654.1" r="7.3" fill="none" stroke="#df2e1d" stroke-width="6.3"/>
<circle cx="1534.0" cy="663.6" r="7.3" fill="none" stroke="#df2e1d" stroke-width="6.3"/>
<circle cx="1512.5" cy="658.7" r="7.3" fill="none" stroke="#df2e1d" stroke-width="6.3"/>
<rect x="1016.3" y="436.7" width="592.7" height="483.0" fill="none" stroke="#0d0f0e" stroke-width="3.2"/>
<path d="M1115.1,919.7 v-6.1 M1115.1,436.7 v6.1" stroke="#0d0f0e" stroke-width="3"/>
<path d="M1213.9,919.7 v-6.1 M1213.9,436.7 v6.1" stroke="#0d0f0e" stroke-width="3"/>
<path d="M1312.7,919.7 v-6.1 M1312.7,436.7 v6.1" stroke="#0d0f0e" stroke-width="3"/>
<path d="M1411.4,919.7 v-6.1 M1411.4,436.7 v6.1" stroke="#0d0f0e" stroke-width="3"/>
<path d="M1510.2,919.7 v-6.1 M1510.2,436.7 v6.1" stroke="#0d0f0e" stroke-width="3"/>
<path d="M1016.3,823.1 h6.1 M1609.0,823.1 h-6.1" stroke="#0d0f0e" stroke-width="3"/>
<path d="M1016.3,726.5 h6.1 M1609.0,726.5 h-6.1" stroke="#0d0f0e" stroke-width="3"/>
<path d="M1016.3,629.9 h6.1 M1609.0,629.9 h-6.1" stroke="#0d0f0e" stroke-width="3"/>
<path d="M1016.3,533.3 h6.1 M1609.0,533.3 h-6.1" stroke="#0d0f0e" stroke-width="3"/>
<text x="1001" y="932.3" font-family="Liberation Sans, Arial, Helvetica, sans-serif" font-size="44" text-anchor="end">6</text>
<text x="1001" y="835.7" font-family="Liberation Sans, Arial, Helvetica, sans-serif" font-size="44" text-anchor="end">7</text>
<text x="1001" y="739.1" font-family="Liberation Sans, Arial, Helvetica, sans-serif" font-size="44" text-anchor="end">8</text>
<text x="1001" y="642.5" font-family="Liberation Sans, Arial, Helvetica, sans-serif" font-size="44" text-anchor="end">9</text>
<text x="1020.3" y="964.6" font-family="Liberation Sans, Arial, Helvetica, sans-serif" font-size="44" text-anchor="middle">0</text>
<text x="1208.5" y="964.6" font-family="Liberation Sans, Arial, Helvetica, sans-serif" font-size="44" text-anchor="middle">0.002</text>
<text x="1408.6" y="964.6" font-family="Liberation Sans, Arial, Helvetica, sans-serif" font-size="44" text-anchor="middle">0.004</text>
<text x="1597.8" y="964.6" font-family="Liberation Sans, Arial, Helvetica, sans-serif" font-size="44" text-anchor="middle">0.006</text>
<text x="940" y="670.9" font-family="Liberation Sans, Arial, Helvetica, sans-serif" font-size="43.7" text-anchor="middle" transform="rotate(-90 940 670.9)">Frequency (GHz)</text>
<text transform="matrix(0.8747 0 0 0.9403 101.97 450.13)" font-family="Liberation Sans, Arial, Helvetica, sans-serif" font-size="44" fill="#000"><tspan font-family="NanumGothic, Liberation Sans, sans-serif" stroke="currentColor" stroke-width="0.9">1</tspan><tspan font-family="NanumGothic, Liberation Sans, sans-serif" stroke="currentColor" stroke-width="0.9">1</tspan></text>
<text transform="matrix(0.9691 0 0 0.9552 98.23 547.32)" font-family="Liberation Sans, Arial, Helvetica, sans-serif" font-size="44" fill="#000"><tspan font-family="NanumGothic, Liberation Sans, sans-serif" stroke="currentColor" stroke-width="0.9">1</tspan>0</text>
<text transform="matrix(0.8613 0 0 0.9284 954.85 449.44)" font-family="Liberation Sans, Arial, Helvetica, sans-serif" font-size="44" fill="#000"><tspan font-family="NanumGothic, Liberation Sans, sans-serif" stroke="currentColor" stroke-width="0.9">1</tspan><tspan font-family="NanumGothic, Liberation Sans, sans-serif" stroke="currentColor" stroke-width="0.9">1</tspan></text>
<text transform="matrix(0.9737 0 0 0.9433 951.10 546.43)" font-family="Liberation Sans, Arial, Helvetica, sans-serif" font-size="44" fill="#000"><tspan font-family="NanumGothic, Liberation Sans, sans-serif" stroke="currentColor" stroke-width="0.9">1</tspan>0</text>
<text transform="matrix(0.9008 0 0 1.0115 -3.75 56.97)" font-family="Liberation Sans, Arial, Helvetica, sans-serif" font-size="56" fill="#000">(a)</text>
<text transform="matrix(0.9200 0 0 1.0320 9.99 156.40)" font-family="Liberation Sans, Arial, Helvetica, sans-serif" font-size="36" fill="#000">2D</text>
<text transform="matrix(0.9674 0 0 1.0047 75.46 95.76)" font-family="Liberation Sans, Arial, Helvetica, sans-serif" font-size="44" fill="#000">y</text>
<text transform="matrix(1.0146 0 0 0.9846 161.69 141.40)" font-family="Liberation Sans, Arial, Helvetica, sans-serif" font-size="43" fill="#000">x</text>
<text transform="matrix(0.9095 0 0 0.9852 260.23 27.95)" font-family="Liberation Sans, Arial, Helvetica, sans-serif" font-size="37" fill="#000">unit cell</text>
<text transform="matrix(1.0746 0 0 0.9786 304.31 113.72)" font-family="Liberation Sans, Arial, Helvetica, sans-serif" font-size="37.5" fill="#000">p</text>
<text transform="matrix(0.8246 0 0 1.0000 471.04 26.95)" font-family="Liberation Sans, Arial, Helvetica, sans-serif" font-size="39" fill="#000">broadside</text>
<text transform="matrix(0.8717 0 0 1.0185 374.02 75.75)" font-family="Liberation Sans, Arial, Helvetica, sans-serif" font-size="37" fill="#3a5db0">backward</text>
<text transform="matrix(0.8420 0 0 1.0018 584.28 73.95)" font-family="Liberation Sans, Arial, Helvetica, sans-serif" font-size="38" fill="#e0301e">forward</text>
<text transform="matrix(0.7946 0 0 0.9952 703.42 74.70)" font-family="Liberation Sans, Arial, Helvetica, sans-serif" font-size="43" fill="#e0301e">k</text>
<text transform="matrix(1.0049 0 0 1.0361 721.45 81.04)" font-family="Liberation Sans, Arial, Helvetica, sans-serif" font-size="21.5" fill="#e0301e">0</text>
<text transform="matrix(1.2400 0 0 1.0370 548.35 94.02)" font-family="Liberation Serif, Times New Roman, serif" font-size="30" fill="#e0301e">φ</text>
<text transform="matrix(1.0301 0 0 1.0338 563.91 99.88)" font-family="Liberation Sans, Arial, Helvetica, sans-serif" font-size="17.5" fill="#e0301e">peak</text>
<text transform="matrix(0.8477 0 0 0.9802 95.18 203.15)" font-family="Liberation Sans, Arial, Helvetica, sans-serif" font-size="38" fill="#231815">metal</text>
<text transform="matrix(1.1111 0 0 0.9416 225.74 204.43)" font-family="Liberation Sans, Arial, Helvetica, sans-serif" font-size="37" fill="#231815"><tspan font-family="NanumGothic, Liberation Sans, sans-serif" stroke="currentColor" stroke-width="0.7">1</tspan></text>
<text transform="matrix(0.9000 0 0 1.0286 303.90 205.00)" font-family="Liberation Sans, Arial, Helvetica, sans-serif" font-size="37.5" fill="#231815">2</text>
<text transform="matrix(0.8949 0 0 0.9741 109.36 239.26)" font-family="Liberation Sans, Arial, Helvetica, sans-serif" font-size="37" fill="#231815">air</text>
<text transform="matrix(0.8517 0 0 1.0577 107.25 291.64)" font-family="Liberation Sans, Arial, Helvetica, sans-serif" font-size="37" fill="#231815">YIG</text>
<text transform="matrix(0.8740 0 0 0.9381 514.68 205.03)" font-family="Liberation Sans, Arial, Helvetica, sans-serif" font-size="37" fill="#231815">N-<tspan font-family="NanumGothic, Liberation Sans, sans-serif" stroke="currentColor" stroke-width="0.7">1</tspan></text>
<text transform="matrix(0.8771 0 0 1.0392 615.17 205.50)" font-family="Liberation Sans, Arial, Helvetica, sans-serif" font-size="37" fill="#231815">N</text>
<text transform="matrix(1.0280 0 0 0.9795 611.90 164.70)" font-family="Liberation Sans, Arial, Helvetica, sans-serif" font-size="37" fill="#000">w</text>
<text transform="matrix(1.0688 0 0 0.9855 738.86 205.80)" font-family="Liberation Sans, Arial, Helvetica, sans-serif" font-size="38" fill="#000">h</text>
<text transform="matrix(1.0261 0 0 0.9730 739.46 240.86)" font-family="Liberation Sans, Arial, Helvetica, sans-serif" font-size="38" fill="#000">d</text>
<text transform="matrix(0.9970 0 0 1.0149 489.51 240.39)" font-family="Liberation Sans, Arial, Helvetica, sans-serif" font-size="36" fill="#e0301e">β</text>
<text transform="matrix(0.8238 0 0 1.0384 646.94 305.00)" font-family="Liberation Sans, Arial, Helvetica, sans-serif" font-size="36" font-weight="bold" fill="#231815">H</text>
<text transform="matrix(1.0049 0 0 1.0581 666.70 307.44)" font-family="Liberation Sans, Arial, Helvetica, sans-serif" font-size="22" font-weight="bold" fill="#231815">0</text>
<text transform="matrix(1.0456 0 0 1.0275 227.64 496.14)" font-family="Liberation Sans, Arial, Helvetica, sans-serif" font-size="55" fill="#2c4a66">(b)</text>
<text transform="matrix(1.0603 0 0 1.0373 1076.69 496.23)" font-family="Liberation Sans, Arial, Helvetica, sans-serif" font-size="55" fill="#000">(c)</text>
<text transform="matrix(1.0446 0 0 1.0000 402.63 1012.45)" font-family="Liberation Serif, Times New Roman, serif" font-size="43" fill="#000">β (2π/<tspan font-family="Liberation Sans, Arial, Helvetica, sans-serif">p</tspan>)</text>
<text transform="matrix(1.0378 0 0 0.9960 1280.58 1009.62)" font-family="Liberation Sans, Arial, Helvetica, sans-serif" font-size="44" fill="#000"><tspan font-family="Liberation Serif, Times New Roman, serif" font-size="46">α</tspan>/k<tspan font-size="31" dy="5.8">0</tspan></text>
<text transform="matrix(0.8841 0 0 1.0538 842.07 98.44)" font-family="Liberation Sans, Arial, Helvetica, sans-serif" font-size="37" fill="#000">3D</text>
<text transform="matrix(0.9628 0 0 0.9860 900.46 71.83)" font-family="Liberation Sans, Arial, Helvetica, sans-serif" font-size="44" fill="#000">y</text>
<text transform="matrix(1.0429 0 0 0.9892 985.78 117.80)" font-family="Liberation Sans, Arial, Helvetica, sans-serif" font-size="44" fill="#000">x</text>
<text transform="matrix(1.1278 0 0 0.9892 861.53 163.60)" font-family="Liberation Sans, Arial, Helvetica, sans-serif" font-size="44" fill="#000">z</text>
<text transform="matrix(0.8675 0 0 1.0542 1216.55 267.00)" font-family="Liberation Sans, Arial, Helvetica, sans-serif" font-size="35" font-weight="bold" fill="#231815">H</text>
<text transform="matrix(0.9674 0 0 1.0646 1236.63 269.03)" font-family="Liberation Sans, Arial, Helvetica, sans-serif" font-size="23" font-weight="bold" fill="#231815">0</text>
<text transform="matrix(1.0256 0 0 1.0347 1605.41 329.20)" font-family="Liberation Sans, Arial, Helvetica, sans-serif" font-size="44" fill="#000">L</text>
</svg></body></html>
